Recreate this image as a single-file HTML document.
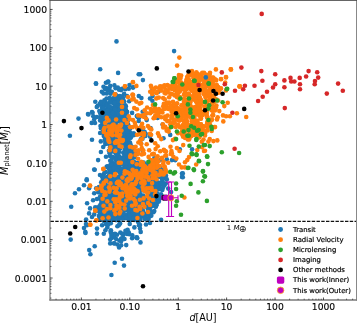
<!DOCTYPE html>
<html><head><meta charset="utf-8"><title>Planet mass vs distance</title>
<style>html,body{margin:0;padding:0;background:#fff;overflow:hidden}svg{display:block}</style></head>
<body>
<svg width="357" height="323" viewBox="0 0 357 323" font-family="'DejaVu Sans', 'Liberation Sans', sans-serif">
<rect width="357" height="323" fill="#fff"/>
<clipPath id="c"><rect x="50.5" y="0.5" width="306.0" height="300.0"/></clipPath>
<g clip-path="url(#c)">
<g fill="#1f77b4">
<circle cx="119.3" cy="146.7" r="2.3"/><circle cx="110.2" cy="132.3" r="2.3"/><circle cx="131.3" cy="160.4" r="2.3"/><circle cx="104.4" cy="110.1" r="2.3"/><circle cx="101.8" cy="127.2" r="2.3"/><circle cx="101.0" cy="128.3" r="2.3"/><circle cx="122.7" cy="115.3" r="2.3"/><circle cx="123.7" cy="138.1" r="2.3"/><circle cx="109.1" cy="125.3" r="2.3"/><circle cx="109.9" cy="145.6" r="2.3"/><circle cx="115.4" cy="106.5" r="2.3"/><circle cx="119.1" cy="152.0" r="2.3"/><circle cx="110.7" cy="111.2" r="2.3"/><circle cx="113.6" cy="163.4" r="2.3"/><circle cx="131.6" cy="156.7" r="2.3"/><circle cx="113.2" cy="101.7" r="2.3"/><circle cx="122.9" cy="135.7" r="2.3"/><circle cx="112.7" cy="111.4" r="2.3"/><circle cx="114.2" cy="129.2" r="2.3"/><circle cx="109.4" cy="116.3" r="2.3"/><circle cx="116.0" cy="157.8" r="2.3"/><circle cx="120.5" cy="115.7" r="2.3"/><circle cx="109.7" cy="128.2" r="2.3"/><circle cx="107.2" cy="109.7" r="2.3"/><circle cx="118.0" cy="101.4" r="2.3"/><circle cx="116.9" cy="121.4" r="2.3"/><circle cx="124.8" cy="149.5" r="2.3"/><circle cx="124.2" cy="145.3" r="2.3"/><circle cx="113.1" cy="143.8" r="2.3"/><circle cx="111.9" cy="136.8" r="2.3"/><circle cx="111.4" cy="127.5" r="2.3"/><circle cx="102.2" cy="112.7" r="2.3"/><circle cx="124.2" cy="142.5" r="2.3"/><circle cx="125.3" cy="129.7" r="2.3"/><circle cx="120.9" cy="99.9" r="2.3"/><circle cx="102.5" cy="109.5" r="2.3"/><circle cx="105.3" cy="102.3" r="2.3"/><circle cx="104.5" cy="135.4" r="2.3"/><circle cx="123.9" cy="134.5" r="2.3"/><circle cx="124.8" cy="114.3" r="2.3"/><circle cx="132.4" cy="156.3" r="2.3"/><circle cx="125.4" cy="130.1" r="2.3"/><circle cx="129.5" cy="149.4" r="2.3"/><circle cx="123.1" cy="161.7" r="2.3"/><circle cx="122.2" cy="121.7" r="2.3"/><circle cx="119.3" cy="109.3" r="2.3"/><circle cx="127.5" cy="166.0" r="2.3"/><circle cx="129.8" cy="134.7" r="2.3"/><circle cx="103.1" cy="130.7" r="2.3"/><circle cx="132.5" cy="152.5" r="2.3"/><circle cx="117.0" cy="128.2" r="2.3"/><circle cx="107.6" cy="107.9" r="2.3"/><circle cx="122.4" cy="105.5" r="2.3"/><circle cx="114.5" cy="98.6" r="2.3"/><circle cx="122.8" cy="130.0" r="2.3"/><circle cx="109.6" cy="142.6" r="2.3"/><circle cx="118.9" cy="156.1" r="2.3"/><circle cx="106.0" cy="114.0" r="2.3"/><circle cx="124.2" cy="160.4" r="2.3"/><circle cx="111.9" cy="99.7" r="2.3"/><circle cx="125.9" cy="106.5" r="2.3"/><circle cx="124.3" cy="156.4" r="2.3"/><circle cx="125.5" cy="121.2" r="2.3"/><circle cx="125.4" cy="105.2" r="2.3"/><circle cx="111.0" cy="125.6" r="2.3"/><circle cx="130.8" cy="153.3" r="2.3"/><circle cx="107.2" cy="112.6" r="2.3"/><circle cx="129.0" cy="165.5" r="2.3"/><circle cx="124.5" cy="130.2" r="2.3"/><circle cx="110.0" cy="155.9" r="2.3"/><circle cx="109.8" cy="126.4" r="2.3"/><circle cx="118.9" cy="102.0" r="2.3"/><circle cx="129.3" cy="134.0" r="2.3"/><circle cx="127.1" cy="111.9" r="2.3"/><circle cx="112.0" cy="164.2" r="2.3"/><circle cx="124.5" cy="156.4" r="2.3"/><circle cx="126.0" cy="117.2" r="2.3"/><circle cx="118.1" cy="106.4" r="2.3"/><circle cx="116.8" cy="99.5" r="2.3"/><circle cx="118.9" cy="100.5" r="2.3"/><circle cx="106.4" cy="126.9" r="2.3"/><circle cx="117.4" cy="137.6" r="2.3"/><circle cx="121.7" cy="122.2" r="2.3"/><circle cx="121.7" cy="106.5" r="2.3"/><circle cx="109.6" cy="153.3" r="2.3"/><circle cx="105.4" cy="111.3" r="2.3"/><circle cx="108.5" cy="130.0" r="2.3"/><circle cx="116.2" cy="106.9" r="2.3"/><circle cx="123.8" cy="153.0" r="2.3"/><circle cx="120.2" cy="145.7" r="2.3"/><circle cx="113.7" cy="98.4" r="2.3"/><circle cx="115.4" cy="122.2" r="2.3"/><circle cx="120.9" cy="104.8" r="2.3"/><circle cx="109.3" cy="125.0" r="2.3"/><circle cx="119.8" cy="139.6" r="2.3"/><circle cx="101.5" cy="125.5" r="2.3"/><circle cx="100.1" cy="113.0" r="2.3"/><circle cx="125.7" cy="141.2" r="2.3"/><circle cx="116.3" cy="157.6" r="2.3"/><circle cx="123.7" cy="127.6" r="2.3"/><circle cx="123.5" cy="128.6" r="2.3"/><circle cx="117.8" cy="158.6" r="2.3"/><circle cx="112.1" cy="99.2" r="2.3"/><circle cx="125.0" cy="125.3" r="2.3"/><circle cx="125.7" cy="129.8" r="2.3"/><circle cx="117.5" cy="125.5" r="2.3"/><circle cx="110.2" cy="160.8" r="2.3"/><circle cx="123.4" cy="152.6" r="2.3"/><circle cx="132.2" cy="158.0" r="2.3"/><circle cx="117.7" cy="136.5" r="2.3"/><circle cx="106.1" cy="134.0" r="2.3"/><circle cx="104.4" cy="100.3" r="2.3"/><circle cx="121.3" cy="130.9" r="2.3"/><circle cx="123.6" cy="152.7" r="2.3"/><circle cx="122.1" cy="137.1" r="2.3"/><circle cx="122.8" cy="134.7" r="2.3"/><circle cx="119.5" cy="158.4" r="2.3"/><circle cx="115.8" cy="134.1" r="2.3"/><circle cx="124.2" cy="101.5" r="2.3"/><circle cx="115.1" cy="102.5" r="2.3"/><circle cx="107.3" cy="110.8" r="2.3"/><circle cx="118.1" cy="136.6" r="2.3"/><circle cx="128.8" cy="130.5" r="2.3"/><circle cx="126.1" cy="135.4" r="2.3"/><circle cx="121.8" cy="114.7" r="2.3"/><circle cx="132.8" cy="151.2" r="2.3"/><circle cx="105.1" cy="134.2" r="2.3"/><circle cx="110.6" cy="149.1" r="2.3"/><circle cx="120.1" cy="148.4" r="2.3"/><circle cx="119.3" cy="163.6" r="2.3"/><circle cx="112.1" cy="136.9" r="2.3"/><circle cx="114.7" cy="166.8" r="2.3"/><circle cx="119.0" cy="134.0" r="2.3"/><circle cx="116.3" cy="95.5" r="2.3"/><circle cx="128.7" cy="136.8" r="2.3"/><circle cx="114.8" cy="140.2" r="2.3"/><circle cx="107.1" cy="118.9" r="2.3"/><circle cx="112.1" cy="123.8" r="2.3"/><circle cx="105.9" cy="139.0" r="2.3"/><circle cx="121.7" cy="145.9" r="2.3"/><circle cx="110.2" cy="116.3" r="2.3"/><circle cx="126.4" cy="123.3" r="2.3"/><circle cx="110.2" cy="122.9" r="2.3"/><circle cx="125.1" cy="125.1" r="2.3"/><circle cx="132.0" cy="147.5" r="2.3"/><circle cx="116.8" cy="101.1" r="2.3"/><circle cx="112.7" cy="130.8" r="2.3"/><circle cx="109.9" cy="134.0" r="2.3"/><circle cx="107.3" cy="131.1" r="2.3"/><circle cx="118.5" cy="144.2" r="2.3"/><circle cx="126.1" cy="148.3" r="2.3"/><circle cx="114.8" cy="128.3" r="2.3"/><circle cx="125.8" cy="167.6" r="2.3"/><circle cx="110.7" cy="140.4" r="2.3"/><circle cx="124.0" cy="133.5" r="2.3"/><circle cx="112.0" cy="128.2" r="2.3"/><circle cx="102.9" cy="116.3" r="2.3"/><circle cx="112.4" cy="131.9" r="2.3"/><circle cx="102.1" cy="108.0" r="2.3"/><circle cx="124.3" cy="139.2" r="2.3"/><circle cx="129.9" cy="165.3" r="2.3"/><circle cx="112.6" cy="140.3" r="2.3"/><circle cx="115.7" cy="131.9" r="2.3"/><circle cx="113.7" cy="166.3" r="2.3"/><circle cx="121.8" cy="105.4" r="2.3"/><circle cx="124.4" cy="165.5" r="2.3"/><circle cx="132.6" cy="148.6" r="2.3"/><circle cx="115.0" cy="122.8" r="2.3"/><circle cx="127.5" cy="131.4" r="2.3"/><circle cx="113.7" cy="102.8" r="2.3"/><circle cx="115.2" cy="152.5" r="2.3"/><circle cx="117.2" cy="158.2" r="2.3"/><circle cx="113.3" cy="140.9" r="2.3"/><circle cx="129.4" cy="136.3" r="2.3"/><circle cx="111.3" cy="120.4" r="2.3"/><circle cx="120.8" cy="104.4" r="2.3"/><circle cx="117.9" cy="116.6" r="2.3"/><circle cx="112.0" cy="118.5" r="2.3"/><circle cx="108.3" cy="107.0" r="2.3"/><circle cx="100.5" cy="126.1" r="2.3"/><circle cx="129.5" cy="160.9" r="2.3"/><circle cx="117.1" cy="125.8" r="2.3"/><circle cx="130.4" cy="133.6" r="2.3"/><circle cx="119.2" cy="142.4" r="2.3"/><circle cx="103.7" cy="133.9" r="2.3"/><circle cx="112.0" cy="148.0" r="2.3"/><circle cx="118.5" cy="146.5" r="2.3"/><circle cx="106.1" cy="112.9" r="2.3"/><circle cx="102.3" cy="106.6" r="2.3"/><circle cx="104.1" cy="116.2" r="2.3"/><circle cx="126.3" cy="145.6" r="2.3"/><circle cx="126.7" cy="143.2" r="2.3"/><circle cx="119.4" cy="96.6" r="2.3"/><circle cx="117.2" cy="156.6" r="2.3"/><circle cx="116.5" cy="116.6" r="2.3"/><circle cx="109.6" cy="123.7" r="2.3"/><circle cx="126.2" cy="167.1" r="2.3"/><circle cx="126.7" cy="115.7" r="2.3"/><circle cx="115.2" cy="147.8" r="2.3"/><circle cx="124.8" cy="144.5" r="2.3"/><circle cx="117.1" cy="105.4" r="2.3"/><circle cx="115.6" cy="113.2" r="2.3"/><circle cx="124.3" cy="143.4" r="2.3"/><circle cx="116.2" cy="146.6" r="2.3"/><circle cx="119.7" cy="144.3" r="2.3"/><circle cx="122.2" cy="114.1" r="2.3"/><circle cx="129.6" cy="129.4" r="2.3"/><circle cx="121.0" cy="159.0" r="2.3"/><circle cx="128.1" cy="124.3" r="2.3"/><circle cx="104.7" cy="114.4" r="2.3"/><circle cx="103.0" cy="108.1" r="2.3"/><circle cx="108.6" cy="124.6" r="2.3"/><circle cx="124.0" cy="127.4" r="2.3"/><circle cx="117.6" cy="101.8" r="2.3"/><circle cx="111.8" cy="110.1" r="2.3"/><circle cx="121.6" cy="145.9" r="2.3"/><circle cx="117.7" cy="98.2" r="2.3"/><circle cx="108.8" cy="112.4" r="2.3"/><circle cx="109.4" cy="114.2" r="2.3"/><circle cx="134.0" cy="152.8" r="2.3"/><circle cx="131.2" cy="147.1" r="2.3"/><circle cx="112.1" cy="163.8" r="2.3"/><circle cx="117.0" cy="108.5" r="2.3"/><circle cx="125.5" cy="113.9" r="2.3"/><circle cx="128.8" cy="149.1" r="2.3"/><circle cx="110.2" cy="128.6" r="2.3"/><circle cx="125.0" cy="143.8" r="2.3"/><circle cx="118.4" cy="110.6" r="2.3"/><circle cx="111.4" cy="145.7" r="2.3"/><circle cx="116.0" cy="147.4" r="2.3"/><circle cx="123.9" cy="121.0" r="2.3"/><circle cx="112.4" cy="136.2" r="2.3"/><circle cx="104.4" cy="105.7" r="2.3"/><circle cx="114.8" cy="143.9" r="2.3"/><circle cx="129.8" cy="144.1" r="2.3"/><circle cx="126.2" cy="112.4" r="2.3"/><circle cx="103.5" cy="119.0" r="2.3"/><circle cx="104.4" cy="125.4" r="2.3"/><circle cx="126.6" cy="115.5" r="2.3"/><circle cx="130.0" cy="128.1" r="2.3"/><circle cx="105.7" cy="141.9" r="2.3"/><circle cx="115.3" cy="119.1" r="2.3"/><circle cx="118.1" cy="167.3" r="2.3"/><circle cx="126.3" cy="116.4" r="2.3"/><circle cx="114.3" cy="122.2" r="2.3"/><circle cx="122.7" cy="132.1" r="2.3"/><circle cx="105.5" cy="141.8" r="2.3"/><circle cx="128.3" cy="151.0" r="2.3"/><circle cx="112.1" cy="157.2" r="2.3"/><circle cx="119.7" cy="100.8" r="2.3"/><circle cx="126.1" cy="136.1" r="2.3"/><circle cx="115.8" cy="141.6" r="2.3"/><circle cx="115.5" cy="97.7" r="2.3"/><circle cx="109.8" cy="98.6" r="2.3"/><circle cx="125.1" cy="161.4" r="2.3"/><circle cx="116.2" cy="154.4" r="2.3"/><circle cx="111.5" cy="123.1" r="2.3"/><circle cx="110.2" cy="116.5" r="2.3"/><circle cx="119.6" cy="118.8" r="2.3"/><circle cx="110.8" cy="123.6" r="2.3"/><circle cx="106.5" cy="98.6" r="2.3"/><circle cx="122.9" cy="125.9" r="2.3"/><circle cx="117.8" cy="120.8" r="2.3"/><circle cx="120.2" cy="162.6" r="2.3"/><circle cx="122.9" cy="109.2" r="2.3"/><circle cx="112.8" cy="145.0" r="2.3"/><circle cx="119.9" cy="101.2" r="2.3"/><circle cx="124.5" cy="142.3" r="2.3"/><circle cx="120.2" cy="105.7" r="2.3"/><circle cx="105.8" cy="140.3" r="2.3"/><circle cx="110.3" cy="147.3" r="2.3"/><circle cx="107.1" cy="141.8" r="2.3"/><circle cx="114.5" cy="97.2" r="2.3"/><circle cx="118.1" cy="132.0" r="2.3"/><circle cx="131.9" cy="146.9" r="2.3"/><circle cx="110.6" cy="142.1" r="2.3"/><circle cx="108.8" cy="142.8" r="2.3"/><circle cx="121.1" cy="139.9" r="2.3"/><circle cx="118.8" cy="149.2" r="2.3"/><circle cx="119.4" cy="115.3" r="2.3"/><circle cx="121.8" cy="157.7" r="2.3"/><circle cx="103.8" cy="135.9" r="2.3"/><circle cx="122.1" cy="162.6" r="2.3"/><circle cx="125.6" cy="143.2" r="2.3"/><circle cx="130.1" cy="142.9" r="2.3"/><circle cx="122.1" cy="139.5" r="2.3"/><circle cx="118.1" cy="96.6" r="2.3"/><circle cx="128.7" cy="145.3" r="2.3"/><circle cx="123.0" cy="98.8" r="2.3"/><circle cx="124.7" cy="119.7" r="2.3"/><circle cx="111.7" cy="102.5" r="2.3"/><circle cx="100.6" cy="118.6" r="2.3"/><circle cx="124.5" cy="125.6" r="2.3"/><circle cx="125.4" cy="165.9" r="2.3"/><circle cx="110.6" cy="109.2" r="2.3"/><circle cx="127.5" cy="164.2" r="2.3"/><circle cx="125.1" cy="136.9" r="2.3"/><circle cx="112.9" cy="116.6" r="2.3"/><circle cx="102.3" cy="122.7" r="2.3"/><circle cx="117.6" cy="113.2" r="2.3"/><circle cx="110.1" cy="138.8" r="2.3"/><circle cx="130.9" cy="137.6" r="2.3"/><circle cx="112.3" cy="156.7" r="2.3"/><circle cx="118.5" cy="140.2" r="2.3"/><circle cx="126.5" cy="116.0" r="2.3"/><circle cx="124.0" cy="114.5" r="2.3"/><circle cx="122.8" cy="113.7" r="2.3"/><circle cx="127.9" cy="120.4" r="2.3"/><circle cx="125.0" cy="157.4" r="2.3"/><circle cx="130.5" cy="133.0" r="2.3"/><circle cx="119.2" cy="116.5" r="2.3"/><circle cx="130.0" cy="150.6" r="2.3"/><circle cx="118.0" cy="131.7" r="2.3"/><circle cx="103.3" cy="102.9" r="2.3"/><circle cx="126.8" cy="133.4" r="2.3"/><circle cx="119.5" cy="126.6" r="2.3"/><circle cx="113.4" cy="128.9" r="2.3"/><circle cx="115.4" cy="104.8" r="2.3"/><circle cx="133.7" cy="165.0" r="2.3"/><circle cx="113.5" cy="166.7" r="2.3"/><circle cx="116.9" cy="162.4" r="2.3"/><circle cx="112.0" cy="131.2" r="2.3"/><circle cx="129.0" cy="143.1" r="2.3"/><circle cx="110.7" cy="128.3" r="2.3"/><circle cx="121.8" cy="124.3" r="2.3"/><circle cx="106.9" cy="111.4" r="2.3"/><circle cx="125.9" cy="110.4" r="2.3"/><circle cx="106.5" cy="116.0" r="2.3"/><circle cx="116.8" cy="110.9" r="2.3"/><circle cx="115.5" cy="159.5" r="2.3"/><circle cx="120.3" cy="160.7" r="2.3"/><circle cx="130.8" cy="154.4" r="2.3"/><circle cx="132.3" cy="162.5" r="2.3"/><circle cx="123.2" cy="163.5" r="2.3"/><circle cx="108.1" cy="137.0" r="2.3"/><circle cx="128.0" cy="137.8" r="2.3"/><circle cx="122.0" cy="123.6" r="2.3"/><circle cx="120.5" cy="121.2" r="2.3"/><circle cx="111.5" cy="107.6" r="2.3"/><circle cx="106.5" cy="143.7" r="2.3"/><circle cx="110.0" cy="118.1" r="2.3"/><circle cx="129.0" cy="155.1" r="2.3"/><circle cx="122.9" cy="127.6" r="2.3"/><circle cx="110.9" cy="132.9" r="2.3"/><circle cx="123.3" cy="123.5" r="2.3"/><circle cx="114.3" cy="110.7" r="2.3"/><circle cx="105.8" cy="140.5" r="2.3"/><circle cx="123.0" cy="138.8" r="2.3"/><circle cx="126.2" cy="118.3" r="2.3"/><circle cx="109.2" cy="116.0" r="2.3"/><circle cx="129.3" cy="157.0" r="2.3"/><circle cx="113.2" cy="116.2" r="2.3"/><circle cx="124.0" cy="112.2" r="2.3"/><circle cx="126.0" cy="152.9" r="2.3"/><circle cx="118.7" cy="107.7" r="2.3"/><circle cx="109.2" cy="136.4" r="2.3"/><circle cx="125.7" cy="109.7" r="2.3"/><circle cx="122.7" cy="161.3" r="2.3"/><circle cx="125.6" cy="159.9" r="2.3"/><circle cx="113.6" cy="102.9" r="2.3"/><circle cx="99.7" cy="104.0" r="2.3"/><circle cx="103.6" cy="132.7" r="2.3"/><circle cx="105.1" cy="123.6" r="2.3"/><circle cx="122.2" cy="101.2" r="2.3"/><circle cx="112.0" cy="148.8" r="2.3"/><circle cx="116.1" cy="108.2" r="2.3"/><circle cx="97.8" cy="105.7" r="2.3"/><circle cx="93.3" cy="116.2" r="2.3"/><circle cx="108.8" cy="125.2" r="2.3"/><circle cx="100.1" cy="120.4" r="2.3"/><circle cx="118.5" cy="101.6" r="2.3"/><circle cx="120.9" cy="143.8" r="2.3"/><circle cx="103.4" cy="124.3" r="2.3"/><circle cx="114.5" cy="128.0" r="2.3"/><circle cx="125.1" cy="110.2" r="2.3"/><circle cx="129.2" cy="101.2" r="2.3"/><circle cx="107.3" cy="103.6" r="2.3"/><circle cx="101.5" cy="114.6" r="2.3"/><circle cx="114.1" cy="107.2" r="2.3"/><circle cx="105.9" cy="82.7" r="2.3"/><circle cx="109.4" cy="88.8" r="2.3"/><circle cx="109.4" cy="139.3" r="2.3"/><circle cx="115.4" cy="112.8" r="2.3"/><circle cx="115.4" cy="94.3" r="2.3"/><circle cx="107.5" cy="106.1" r="2.3"/><circle cx="107.6" cy="82.3" r="2.3"/><circle cx="124.2" cy="137.2" r="2.3"/><circle cx="114.0" cy="110.6" r="2.3"/><circle cx="103.4" cy="108.1" r="2.3"/><circle cx="115.3" cy="96.9" r="2.3"/><circle cx="110.0" cy="147.6" r="2.3"/><circle cx="115.9" cy="113.5" r="2.3"/><circle cx="115.8" cy="109.7" r="2.3"/><circle cx="123.7" cy="110.3" r="2.3"/><circle cx="103.0" cy="126.9" r="2.3"/><circle cx="107.9" cy="90.6" r="2.3"/><circle cx="107.1" cy="105.1" r="2.3"/><circle cx="107.3" cy="135.9" r="2.3"/><circle cx="115.1" cy="108.4" r="2.3"/><circle cx="126.4" cy="129.2" r="2.3"/><circle cx="109.7" cy="98.0" r="2.3"/><circle cx="110.5" cy="121.9" r="2.3"/><circle cx="122.0" cy="88.7" r="2.3"/><circle cx="117.1" cy="112.2" r="2.3"/><circle cx="122.6" cy="96.4" r="2.3"/><circle cx="107.5" cy="110.9" r="2.3"/><circle cx="123.9" cy="133.7" r="2.3"/><circle cx="122.9" cy="99.3" r="2.3"/><circle cx="116.3" cy="150.3" r="2.3"/><circle cx="119.1" cy="89.8" r="2.3"/><circle cx="104.9" cy="139.3" r="2.3"/><circle cx="112.3" cy="151.4" r="2.3"/><circle cx="123.9" cy="115.7" r="2.3"/><circle cx="125.3" cy="122.3" r="2.3"/><circle cx="117.6" cy="117.9" r="2.3"/><circle cx="116.2" cy="118.6" r="2.3"/><circle cx="118.4" cy="129.8" r="2.3"/><circle cx="122.5" cy="112.1" r="2.3"/><circle cx="124.9" cy="116.4" r="2.3"/><circle cx="113.3" cy="130.5" r="2.3"/><circle cx="114.4" cy="103.5" r="2.3"/><circle cx="115.8" cy="145.9" r="2.3"/><circle cx="113.3" cy="137.6" r="2.3"/><circle cx="107.8" cy="111.9" r="2.3"/><circle cx="113.6" cy="118.9" r="2.3"/><circle cx="105.2" cy="133.7" r="2.3"/><circle cx="100.9" cy="152.0" r="2.3"/><circle cx="103.3" cy="123.1" r="2.3"/><circle cx="124.4" cy="112.6" r="2.3"/><circle cx="115.6" cy="88.2" r="2.3"/><circle cx="115.6" cy="120.1" r="2.3"/><circle cx="121.2" cy="123.0" r="2.3"/><circle cx="117.4" cy="127.8" r="2.3"/><circle cx="119.9" cy="135.8" r="2.3"/><circle cx="102.9" cy="115.3" r="2.3"/><circle cx="110.9" cy="133.8" r="2.3"/><circle cx="108.9" cy="150.8" r="2.3"/><circle cx="124.1" cy="93.8" r="2.3"/><circle cx="100.5" cy="103.0" r="2.3"/><circle cx="100.8" cy="141.4" r="2.3"/><circle cx="105.3" cy="144.1" r="2.3"/><circle cx="115.9" cy="125.9" r="2.3"/><circle cx="115.0" cy="109.4" r="2.3"/><circle cx="128.1" cy="128.4" r="2.3"/><circle cx="113.0" cy="113.0" r="2.3"/><circle cx="120.4" cy="160.8" r="2.3"/><circle cx="100.1" cy="133.0" r="2.3"/><circle cx="108.9" cy="89.8" r="2.3"/><circle cx="118.3" cy="114.0" r="2.3"/><circle cx="119.5" cy="109.5" r="2.3"/><circle cx="124.0" cy="123.1" r="2.3"/><circle cx="105.8" cy="111.9" r="2.3"/><circle cx="117.8" cy="159.5" r="2.3"/><circle cx="110.7" cy="93.7" r="2.3"/><circle cx="100.4" cy="116.4" r="2.3"/><circle cx="115.1" cy="133.0" r="2.3"/><circle cx="107.9" cy="110.2" r="2.3"/><circle cx="113.0" cy="150.3" r="2.3"/><circle cx="95.3" cy="101.8" r="2.3"/><circle cx="119.9" cy="96.0" r="2.3"/><circle cx="103.2" cy="147.0" r="2.3"/><circle cx="121.4" cy="116.2" r="2.3"/><circle cx="114.6" cy="102.9" r="2.3"/><circle cx="109.6" cy="106.2" r="2.3"/><circle cx="124.6" cy="127.7" r="2.3"/><circle cx="128.8" cy="88.7" r="2.3"/><circle cx="109.8" cy="102.1" r="2.3"/><circle cx="92.0" cy="139.7" r="2.3"/><circle cx="106.2" cy="88.1" r="2.3"/><circle cx="123.4" cy="118.8" r="2.3"/><circle cx="120.7" cy="141.4" r="2.3"/><circle cx="130.5" cy="144.8" r="2.3"/><circle cx="123.9" cy="161.9" r="2.3"/><circle cx="120.1" cy="159.4" r="2.3"/><circle cx="130.0" cy="145.6" r="2.3"/><circle cx="127.0" cy="151.1" r="2.3"/><circle cx="133.8" cy="133.6" r="2.3"/><circle cx="125.3" cy="157.0" r="2.3"/><circle cx="129.7" cy="138.6" r="2.3"/><circle cx="128.5" cy="138.9" r="2.3"/><circle cx="125.5" cy="141.9" r="2.3"/><circle cx="133.2" cy="148.8" r="2.3"/><circle cx="134.6" cy="157.4" r="2.3"/><circle cx="123.6" cy="158.7" r="2.3"/><circle cx="130.9" cy="154.2" r="2.3"/><circle cx="141.0" cy="143.2" r="2.3"/><circle cx="133.4" cy="133.5" r="2.3"/><circle cx="134.2" cy="155.9" r="2.3"/><circle cx="131.3" cy="163.5" r="2.3"/><circle cx="125.9" cy="153.1" r="2.3"/><circle cx="130.6" cy="157.4" r="2.3"/><circle cx="120.1" cy="157.7" r="2.3"/><circle cx="128.3" cy="135.0" r="2.3"/><circle cx="125.5" cy="140.0" r="2.3"/><circle cx="130.1" cy="152.7" r="2.3"/><circle cx="126.8" cy="159.6" r="2.3"/><circle cx="136.7" cy="154.1" r="2.3"/><circle cx="128.9" cy="146.4" r="2.3"/><circle cx="127.4" cy="131.6" r="2.3"/><circle cx="123.7" cy="144.8" r="2.3"/><circle cx="116.5" cy="41.4" r="2.3"/><circle cx="100.2" cy="69.2" r="2.3"/><circle cx="118.1" cy="72.9" r="2.3"/><circle cx="138.7" cy="74.2" r="2.3"/><circle cx="108.2" cy="81.5" r="2.3"/><circle cx="96.1" cy="83.8" r="2.3"/><circle cx="174.1" cy="51.1" r="2.3"/><circle cx="140.2" cy="74.2" r="2.3"/><circle cx="142.9" cy="80.1" r="2.3"/><circle cx="95.9" cy="83.4" r="2.3"/><circle cx="108.2" cy="81.7" r="2.3"/><circle cx="103.5" cy="86.8" r="2.3"/><circle cx="105.2" cy="89.3" r="2.3"/><circle cx="101.8" cy="91.8" r="2.3"/><circle cx="103.5" cy="93.5" r="2.3"/><circle cx="110.2" cy="85.9" r="2.3"/><circle cx="114.4" cy="85.4" r="2.3"/><circle cx="117.8" cy="87.6" r="2.3"/><circle cx="121.1" cy="90.1" r="2.3"/><circle cx="125.3" cy="89.3" r="2.3"/><circle cx="129.5" cy="85.1" r="2.3"/><circle cx="132.9" cy="87.6" r="2.3"/><circle cx="106.8" cy="93.5" r="2.3"/><circle cx="111.9" cy="91.8" r="2.3"/><circle cx="127.0" cy="96.0" r="2.3"/><circle cx="138.8" cy="96.0" r="2.3"/><circle cx="88.4" cy="114.5" r="2.3"/><circle cx="92.6" cy="112.8" r="2.3"/><circle cx="96.8" cy="106.9" r="2.3"/><circle cx="101.0" cy="101.9" r="2.3"/><circle cx="91.7" cy="122.9" r="2.3"/><circle cx="96.8" cy="117.0" r="2.3"/><circle cx="94.2" cy="119.5" r="2.3"/><circle cx="99.3" cy="111.1" r="2.3"/><circle cx="78.5" cy="118.6" r="2.3"/><circle cx="69.9" cy="135.7" r="2.3"/><circle cx="88.0" cy="114.0" r="2.3"/><circle cx="92.0" cy="112.0" r="2.3"/><circle cx="95.0" cy="123.0" r="2.3"/><circle cx="98.1" cy="160.1" r="2.3"/><circle cx="94.7" cy="169.7" r="2.3"/><circle cx="86.7" cy="179.4" r="2.3"/><circle cx="106.0" cy="156.7" r="2.3"/><circle cx="145.0" cy="165.7" r="2.3"/><circle cx="131.7" cy="193.4" r="2.3"/><circle cx="103.8" cy="202.2" r="2.3"/><circle cx="163.0" cy="170.1" r="2.3"/><circle cx="107.0" cy="195.3" r="2.3"/><circle cx="114.5" cy="216.7" r="2.3"/><circle cx="146.6" cy="175.5" r="2.3"/><circle cx="150.1" cy="216.3" r="2.3"/><circle cx="109.0" cy="203.3" r="2.3"/><circle cx="119.5" cy="205.1" r="2.3"/><circle cx="119.5" cy="178.2" r="2.3"/><circle cx="139.7" cy="190.0" r="2.3"/><circle cx="165.8" cy="183.6" r="2.3"/><circle cx="126.3" cy="207.3" r="2.3"/><circle cx="124.8" cy="176.6" r="2.3"/><circle cx="117.5" cy="186.8" r="2.3"/><circle cx="130.8" cy="161.1" r="2.3"/><circle cx="136.7" cy="201.2" r="2.3"/><circle cx="101.3" cy="190.6" r="2.3"/><circle cx="121.8" cy="186.3" r="2.3"/><circle cx="124.0" cy="189.6" r="2.3"/><circle cx="151.7" cy="187.2" r="2.3"/><circle cx="147.0" cy="165.6" r="2.3"/><circle cx="123.5" cy="186.5" r="2.3"/><circle cx="100.6" cy="198.3" r="2.3"/><circle cx="102.7" cy="220.1" r="2.3"/><circle cx="130.3" cy="220.2" r="2.3"/><circle cx="108.5" cy="206.2" r="2.3"/><circle cx="157.8" cy="200.6" r="2.3"/><circle cx="115.8" cy="169.2" r="2.3"/><circle cx="142.5" cy="213.0" r="2.3"/><circle cx="115.7" cy="187.4" r="2.3"/><circle cx="152.8" cy="185.1" r="2.3"/><circle cx="117.6" cy="166.3" r="2.3"/><circle cx="126.6" cy="167.7" r="2.3"/><circle cx="159.2" cy="171.7" r="2.3"/><circle cx="159.9" cy="170.5" r="2.3"/><circle cx="115.0" cy="180.8" r="2.3"/><circle cx="132.7" cy="202.6" r="2.3"/><circle cx="124.8" cy="167.8" r="2.3"/><circle cx="157.7" cy="198.6" r="2.3"/><circle cx="102.2" cy="201.2" r="2.3"/><circle cx="113.7" cy="194.8" r="2.3"/><circle cx="146.7" cy="178.7" r="2.3"/><circle cx="102.4" cy="204.9" r="2.3"/><circle cx="114.8" cy="181.3" r="2.3"/><circle cx="117.7" cy="217.9" r="2.3"/><circle cx="125.0" cy="201.8" r="2.3"/><circle cx="144.2" cy="184.4" r="2.3"/><circle cx="133.1" cy="211.4" r="2.3"/><circle cx="135.1" cy="173.1" r="2.3"/><circle cx="106.5" cy="202.7" r="2.3"/><circle cx="138.6" cy="185.0" r="2.3"/><circle cx="141.4" cy="178.4" r="2.3"/><circle cx="117.3" cy="169.8" r="2.3"/><circle cx="116.6" cy="200.5" r="2.3"/><circle cx="120.7" cy="163.6" r="2.3"/><circle cx="146.6" cy="205.3" r="2.3"/><circle cx="110.3" cy="190.8" r="2.3"/><circle cx="121.8" cy="209.9" r="2.3"/><circle cx="100.5" cy="204.9" r="2.3"/><circle cx="119.0" cy="191.6" r="2.3"/><circle cx="159.0" cy="173.8" r="2.3"/><circle cx="155.2" cy="172.1" r="2.3"/><circle cx="143.8" cy="198.6" r="2.3"/><circle cx="117.3" cy="185.1" r="2.3"/><circle cx="131.4" cy="184.5" r="2.3"/><circle cx="135.7" cy="176.4" r="2.3"/><circle cx="135.9" cy="183.6" r="2.3"/><circle cx="115.5" cy="190.0" r="2.3"/><circle cx="122.7" cy="218.2" r="2.3"/><circle cx="152.1" cy="212.1" r="2.3"/><circle cx="129.4" cy="161.7" r="2.3"/><circle cx="140.1" cy="175.1" r="2.3"/><circle cx="128.0" cy="172.8" r="2.3"/><circle cx="142.6" cy="175.8" r="2.3"/><circle cx="107.9" cy="190.9" r="2.3"/><circle cx="100.7" cy="199.1" r="2.3"/><circle cx="125.0" cy="218.3" r="2.3"/><circle cx="103.5" cy="176.9" r="2.3"/><circle cx="135.0" cy="177.2" r="2.3"/><circle cx="111.7" cy="199.7" r="2.3"/><circle cx="157.6" cy="197.9" r="2.3"/><circle cx="151.0" cy="201.2" r="2.3"/><circle cx="116.1" cy="210.5" r="2.3"/><circle cx="132.2" cy="201.6" r="2.3"/><circle cx="150.1" cy="182.8" r="2.3"/><circle cx="150.8" cy="174.6" r="2.3"/><circle cx="149.6" cy="178.9" r="2.3"/><circle cx="124.2" cy="208.9" r="2.3"/><circle cx="120.0" cy="161.5" r="2.3"/><circle cx="155.1" cy="206.2" r="2.3"/><circle cx="164.2" cy="184.0" r="2.3"/><circle cx="102.2" cy="185.3" r="2.3"/><circle cx="139.3" cy="167.9" r="2.3"/><circle cx="155.6" cy="203.6" r="2.3"/><circle cx="156.4" cy="205.2" r="2.3"/><circle cx="153.1" cy="164.5" r="2.3"/><circle cx="148.2" cy="187.8" r="2.3"/><circle cx="150.5" cy="174.6" r="2.3"/><circle cx="135.5" cy="199.9" r="2.3"/><circle cx="141.8" cy="170.0" r="2.3"/><circle cx="145.9" cy="188.2" r="2.3"/><circle cx="138.1" cy="164.3" r="2.3"/><circle cx="109.3" cy="172.5" r="2.3"/><circle cx="150.1" cy="200.8" r="2.3"/><circle cx="131.6" cy="210.7" r="2.3"/><circle cx="155.5" cy="174.0" r="2.3"/><circle cx="114.9" cy="218.3" r="2.3"/><circle cx="103.3" cy="212.2" r="2.3"/><circle cx="149.9" cy="187.5" r="2.3"/><circle cx="140.4" cy="172.9" r="2.3"/><circle cx="119.8" cy="176.3" r="2.3"/><circle cx="123.9" cy="181.2" r="2.3"/><circle cx="110.5" cy="206.8" r="2.3"/><circle cx="118.1" cy="179.4" r="2.3"/><circle cx="121.0" cy="168.7" r="2.3"/><circle cx="133.3" cy="215.9" r="2.3"/><circle cx="112.7" cy="203.7" r="2.3"/><circle cx="108.4" cy="196.4" r="2.3"/><circle cx="144.5" cy="172.1" r="2.3"/><circle cx="143.1" cy="169.3" r="2.3"/><circle cx="135.1" cy="199.6" r="2.3"/><circle cx="127.2" cy="218.3" r="2.3"/><circle cx="125.1" cy="210.5" r="2.3"/><circle cx="132.9" cy="194.3" r="2.3"/><circle cx="156.3" cy="191.8" r="2.3"/><circle cx="120.3" cy="172.8" r="2.3"/><circle cx="124.2" cy="164.6" r="2.3"/><circle cx="126.4" cy="201.0" r="2.3"/><circle cx="134.8" cy="195.6" r="2.3"/><circle cx="135.4" cy="206.6" r="2.3"/><circle cx="123.4" cy="180.2" r="2.3"/><circle cx="128.1" cy="209.5" r="2.3"/><circle cx="103.3" cy="217.0" r="2.3"/><circle cx="153.5" cy="212.2" r="2.3"/><circle cx="140.9" cy="199.0" r="2.3"/><circle cx="145.2" cy="217.5" r="2.3"/><circle cx="118.2" cy="203.8" r="2.3"/><circle cx="113.1" cy="181.9" r="2.3"/><circle cx="117.3" cy="182.6" r="2.3"/><circle cx="126.9" cy="214.7" r="2.3"/><circle cx="130.5" cy="203.6" r="2.3"/><circle cx="108.2" cy="209.1" r="2.3"/><circle cx="149.4" cy="208.6" r="2.3"/><circle cx="159.9" cy="174.8" r="2.3"/><circle cx="115.6" cy="169.5" r="2.3"/><circle cx="104.6" cy="172.4" r="2.3"/><circle cx="148.4" cy="176.2" r="2.3"/><circle cx="115.6" cy="177.8" r="2.3"/><circle cx="130.6" cy="214.5" r="2.3"/><circle cx="105.3" cy="212.5" r="2.3"/><circle cx="121.8" cy="179.0" r="2.3"/><circle cx="111.5" cy="180.7" r="2.3"/><circle cx="108.3" cy="188.7" r="2.3"/><circle cx="143.5" cy="174.6" r="2.3"/><circle cx="140.0" cy="198.9" r="2.3"/><circle cx="156.5" cy="173.0" r="2.3"/><circle cx="148.6" cy="188.8" r="2.3"/><circle cx="138.2" cy="198.1" r="2.3"/><circle cx="105.7" cy="193.5" r="2.3"/><circle cx="166.0" cy="175.7" r="2.3"/><circle cx="109.1" cy="216.5" r="2.3"/><circle cx="112.1" cy="185.8" r="2.3"/><circle cx="130.8" cy="205.9" r="2.3"/><circle cx="141.1" cy="216.3" r="2.3"/><circle cx="143.7" cy="166.0" r="2.3"/><circle cx="129.5" cy="219.8" r="2.3"/><circle cx="129.3" cy="166.0" r="2.3"/><circle cx="107.8" cy="177.5" r="2.3"/><circle cx="121.3" cy="191.2" r="2.3"/><circle cx="129.3" cy="171.3" r="2.3"/><circle cx="138.9" cy="205.7" r="2.3"/><circle cx="148.9" cy="182.9" r="2.3"/><circle cx="102.4" cy="196.1" r="2.3"/><circle cx="152.6" cy="188.9" r="2.3"/><circle cx="114.9" cy="207.8" r="2.3"/><circle cx="144.2" cy="171.6" r="2.3"/><circle cx="123.4" cy="171.3" r="2.3"/><circle cx="112.6" cy="201.9" r="2.3"/><circle cx="139.7" cy="165.4" r="2.3"/><circle cx="154.8" cy="186.0" r="2.3"/><circle cx="113.0" cy="209.2" r="2.3"/><circle cx="149.3" cy="199.9" r="2.3"/><circle cx="102.6" cy="181.5" r="2.3"/><circle cx="153.6" cy="186.8" r="2.3"/><circle cx="131.4" cy="169.6" r="2.3"/><circle cx="99.7" cy="209.3" r="2.3"/><circle cx="160.1" cy="168.4" r="2.3"/><circle cx="142.6" cy="176.8" r="2.3"/><circle cx="115.8" cy="181.2" r="2.3"/><circle cx="140.9" cy="213.5" r="2.3"/><circle cx="108.3" cy="200.3" r="2.3"/><circle cx="143.0" cy="215.2" r="2.3"/><circle cx="161.1" cy="194.4" r="2.3"/><circle cx="130.1" cy="214.1" r="2.3"/><circle cx="138.4" cy="206.2" r="2.3"/><circle cx="163.6" cy="185.7" r="2.3"/><circle cx="152.2" cy="193.1" r="2.3"/><circle cx="113.6" cy="215.3" r="2.3"/><circle cx="162.3" cy="189.9" r="2.3"/><circle cx="124.3" cy="181.9" r="2.3"/><circle cx="159.7" cy="174.8" r="2.3"/><circle cx="117.4" cy="214.3" r="2.3"/><circle cx="127.4" cy="187.2" r="2.3"/><circle cx="103.6" cy="178.1" r="2.3"/><circle cx="159.8" cy="196.5" r="2.3"/><circle cx="147.8" cy="180.8" r="2.3"/><circle cx="117.7" cy="165.2" r="2.3"/><circle cx="118.5" cy="191.1" r="2.3"/><circle cx="131.0" cy="198.9" r="2.3"/><circle cx="119.1" cy="207.5" r="2.3"/><circle cx="124.9" cy="180.6" r="2.3"/><circle cx="124.0" cy="186.0" r="2.3"/><circle cx="116.6" cy="219.5" r="2.3"/><circle cx="134.0" cy="185.1" r="2.3"/><circle cx="134.2" cy="164.1" r="2.3"/><circle cx="121.7" cy="208.6" r="2.3"/><circle cx="160.5" cy="188.9" r="2.3"/><circle cx="107.5" cy="216.2" r="2.3"/><circle cx="146.0" cy="217.7" r="2.3"/><circle cx="117.7" cy="177.2" r="2.3"/><circle cx="159.4" cy="167.1" r="2.3"/><circle cx="118.8" cy="214.7" r="2.3"/><circle cx="149.0" cy="209.0" r="2.3"/><circle cx="109.7" cy="216.6" r="2.3"/><circle cx="157.6" cy="193.7" r="2.3"/><circle cx="129.1" cy="182.2" r="2.3"/><circle cx="150.7" cy="193.2" r="2.3"/><circle cx="100.9" cy="206.9" r="2.3"/><circle cx="127.4" cy="177.1" r="2.3"/><circle cx="154.6" cy="196.6" r="2.3"/><circle cx="121.1" cy="188.1" r="2.3"/><circle cx="100.5" cy="206.5" r="2.3"/><circle cx="154.3" cy="211.0" r="2.3"/><circle cx="110.1" cy="204.9" r="2.3"/><circle cx="155.5" cy="204.1" r="2.3"/><circle cx="103.9" cy="189.7" r="2.3"/><circle cx="152.7" cy="173.0" r="2.3"/><circle cx="151.3" cy="181.2" r="2.3"/><circle cx="104.2" cy="206.6" r="2.3"/><circle cx="130.3" cy="216.6" r="2.3"/><circle cx="136.8" cy="196.2" r="2.3"/><circle cx="119.2" cy="167.7" r="2.3"/><circle cx="136.5" cy="181.1" r="2.3"/><circle cx="113.1" cy="216.3" r="2.3"/><circle cx="144.6" cy="217.7" r="2.3"/><circle cx="141.2" cy="183.0" r="2.3"/><circle cx="123.7" cy="209.5" r="2.3"/><circle cx="114.3" cy="170.6" r="2.3"/><circle cx="143.2" cy="215.0" r="2.3"/><circle cx="105.3" cy="212.4" r="2.3"/><circle cx="102.5" cy="177.3" r="2.3"/><circle cx="124.3" cy="175.2" r="2.3"/><circle cx="138.5" cy="180.1" r="2.3"/><circle cx="113.4" cy="165.3" r="2.3"/><circle cx="110.5" cy="181.2" r="2.3"/><circle cx="128.7" cy="183.1" r="2.3"/><circle cx="113.4" cy="171.0" r="2.3"/><circle cx="151.3" cy="206.5" r="2.3"/><circle cx="119.1" cy="177.2" r="2.3"/><circle cx="124.9" cy="193.0" r="2.3"/><circle cx="158.3" cy="176.9" r="2.3"/><circle cx="110.1" cy="206.2" r="2.3"/><circle cx="107.7" cy="217.9" r="2.3"/><circle cx="136.6" cy="166.0" r="2.3"/><circle cx="162.2" cy="179.2" r="2.3"/><circle cx="146.0" cy="200.7" r="2.3"/><circle cx="133.3" cy="183.7" r="2.3"/><circle cx="156.7" cy="203.8" r="2.3"/><circle cx="110.2" cy="170.1" r="2.3"/><circle cx="105.7" cy="198.5" r="2.3"/><circle cx="137.8" cy="177.8" r="2.3"/><circle cx="113.0" cy="198.8" r="2.3"/><circle cx="117.4" cy="204.5" r="2.3"/><circle cx="111.3" cy="194.7" r="2.3"/><circle cx="103.2" cy="188.1" r="2.3"/><circle cx="144.0" cy="164.8" r="2.3"/><circle cx="105.4" cy="219.6" r="2.3"/><circle cx="110.3" cy="200.4" r="2.3"/><circle cx="162.4" cy="170.5" r="2.3"/><circle cx="122.9" cy="203.2" r="2.3"/><circle cx="128.6" cy="176.1" r="2.3"/><circle cx="127.9" cy="202.9" r="2.3"/><circle cx="106.6" cy="166.9" r="2.3"/><circle cx="124.0" cy="176.6" r="2.3"/><circle cx="157.7" cy="198.6" r="2.3"/><circle cx="132.8" cy="202.9" r="2.3"/><circle cx="129.2" cy="219.9" r="2.3"/><circle cx="155.9" cy="196.2" r="2.3"/><circle cx="107.4" cy="166.4" r="2.3"/><circle cx="159.4" cy="167.8" r="2.3"/><circle cx="107.7" cy="197.2" r="2.3"/><circle cx="162.1" cy="169.9" r="2.3"/><circle cx="111.0" cy="165.0" r="2.3"/><circle cx="147.4" cy="198.1" r="2.3"/><circle cx="147.4" cy="191.8" r="2.3"/><circle cx="119.5" cy="198.2" r="2.3"/><circle cx="111.1" cy="182.5" r="2.3"/><circle cx="110.4" cy="178.5" r="2.3"/><circle cx="136.2" cy="181.1" r="2.3"/><circle cx="103.4" cy="214.1" r="2.3"/><circle cx="102.0" cy="216.8" r="2.3"/><circle cx="159.8" cy="185.5" r="2.3"/><circle cx="123.6" cy="189.3" r="2.3"/><circle cx="161.0" cy="175.0" r="2.3"/><circle cx="119.6" cy="217.8" r="2.3"/><circle cx="119.3" cy="177.2" r="2.3"/><circle cx="115.9" cy="178.6" r="2.3"/><circle cx="143.9" cy="214.5" r="2.3"/><circle cx="162.5" cy="181.2" r="2.3"/><circle cx="106.3" cy="189.1" r="2.3"/><circle cx="129.1" cy="216.0" r="2.3"/><circle cx="157.1" cy="188.2" r="2.3"/><circle cx="155.8" cy="206.7" r="2.3"/><circle cx="137.7" cy="198.4" r="2.3"/><circle cx="135.6" cy="216.2" r="2.3"/><circle cx="98.9" cy="216.0" r="2.3"/><circle cx="130.3" cy="188.9" r="2.3"/><circle cx="139.7" cy="187.7" r="2.3"/><circle cx="102.9" cy="179.5" r="2.3"/><circle cx="154.7" cy="199.5" r="2.3"/><circle cx="103.7" cy="214.4" r="2.3"/><circle cx="106.6" cy="207.5" r="2.3"/><circle cx="124.1" cy="188.6" r="2.3"/><circle cx="109.1" cy="168.4" r="2.3"/><circle cx="160.0" cy="196.3" r="2.3"/><circle cx="123.1" cy="181.1" r="2.3"/><circle cx="117.8" cy="195.1" r="2.3"/><circle cx="107.6" cy="211.4" r="2.3"/><circle cx="118.8" cy="219.0" r="2.3"/><circle cx="107.8" cy="199.1" r="2.3"/><circle cx="112.2" cy="196.6" r="2.3"/><circle cx="125.2" cy="217.2" r="2.3"/><circle cx="133.7" cy="162.3" r="2.3"/><circle cx="119.2" cy="201.3" r="2.3"/><circle cx="165.0" cy="177.6" r="2.3"/><circle cx="112.2" cy="186.1" r="2.3"/><circle cx="148.3" cy="210.5" r="2.3"/><circle cx="123.3" cy="169.8" r="2.3"/><circle cx="130.0" cy="170.2" r="2.3"/><circle cx="115.8" cy="207.5" r="2.3"/><circle cx="117.1" cy="189.3" r="2.3"/><circle cx="124.0" cy="198.9" r="2.3"/><circle cx="121.2" cy="212.6" r="2.3"/><circle cx="115.2" cy="184.7" r="2.3"/><circle cx="122.7" cy="195.2" r="2.3"/><circle cx="142.6" cy="201.4" r="2.3"/><circle cx="125.4" cy="200.4" r="2.3"/><circle cx="134.4" cy="165.0" r="2.3"/><circle cx="117.5" cy="201.9" r="2.3"/><circle cx="119.3" cy="201.0" r="2.3"/><circle cx="130.3" cy="218.3" r="2.3"/><circle cx="105.9" cy="209.5" r="2.3"/><circle cx="119.0" cy="194.5" r="2.3"/><circle cx="118.4" cy="209.0" r="2.3"/><circle cx="105.7" cy="182.6" r="2.3"/><circle cx="147.5" cy="214.4" r="2.3"/><circle cx="108.8" cy="181.2" r="2.3"/><circle cx="129.9" cy="204.4" r="2.3"/><circle cx="114.2" cy="213.2" r="2.3"/><circle cx="146.6" cy="200.1" r="2.3"/><circle cx="144.7" cy="197.3" r="2.3"/><circle cx="127.8" cy="193.8" r="2.3"/><circle cx="113.3" cy="181.4" r="2.3"/><circle cx="145.0" cy="215.2" r="2.3"/><circle cx="143.1" cy="183.6" r="2.3"/><circle cx="150.4" cy="192.2" r="2.3"/><circle cx="154.2" cy="177.2" r="2.3"/><circle cx="127.1" cy="209.9" r="2.3"/><circle cx="99.3" cy="206.5" r="2.3"/><circle cx="134.2" cy="220.0" r="2.3"/><circle cx="155.9" cy="170.6" r="2.3"/><circle cx="137.1" cy="180.0" r="2.3"/><circle cx="108.5" cy="192.8" r="2.3"/><circle cx="121.0" cy="194.3" r="2.3"/><circle cx="145.7" cy="179.5" r="2.3"/><circle cx="110.6" cy="207.3" r="2.3"/><circle cx="128.3" cy="208.2" r="2.3"/><circle cx="150.3" cy="210.6" r="2.3"/><circle cx="121.9" cy="168.6" r="2.3"/><circle cx="152.9" cy="200.0" r="2.3"/><circle cx="164.1" cy="178.2" r="2.3"/><circle cx="159.0" cy="197.8" r="2.3"/><circle cx="115.6" cy="203.9" r="2.3"/><circle cx="100.6" cy="209.8" r="2.3"/><circle cx="143.8" cy="189.7" r="2.3"/><circle cx="160.8" cy="183.2" r="2.3"/><circle cx="134.8" cy="189.7" r="2.3"/><circle cx="151.5" cy="173.5" r="2.3"/><circle cx="115.1" cy="196.2" r="2.3"/><circle cx="157.3" cy="187.7" r="2.3"/><circle cx="153.9" cy="178.9" r="2.3"/><circle cx="155.9" cy="165.8" r="2.3"/><circle cx="155.1" cy="186.3" r="2.3"/><circle cx="129.4" cy="196.6" r="2.3"/><circle cx="99.7" cy="212.2" r="2.3"/><circle cx="106.4" cy="203.7" r="2.3"/><circle cx="134.1" cy="165.6" r="2.3"/><circle cx="122.1" cy="192.4" r="2.3"/><circle cx="121.4" cy="188.3" r="2.3"/><circle cx="158.9" cy="199.4" r="2.3"/><circle cx="105.3" cy="204.9" r="2.3"/><circle cx="158.2" cy="201.3" r="2.3"/><circle cx="110.0" cy="214.2" r="2.3"/><circle cx="111.7" cy="209.4" r="2.3"/><circle cx="154.4" cy="185.1" r="2.3"/><circle cx="157.1" cy="167.1" r="2.3"/><circle cx="117.5" cy="214.8" r="2.3"/><circle cx="111.1" cy="168.4" r="2.3"/><circle cx="141.6" cy="183.2" r="2.3"/><circle cx="134.8" cy="167.3" r="2.3"/><circle cx="122.0" cy="171.1" r="2.3"/><circle cx="164.3" cy="185.5" r="2.3"/><circle cx="160.4" cy="197.5" r="2.3"/><circle cx="150.8" cy="187.1" r="2.3"/><circle cx="135.1" cy="174.3" r="2.3"/><circle cx="105.6" cy="205.9" r="2.3"/><circle cx="103.7" cy="188.9" r="2.3"/><circle cx="108.6" cy="209.3" r="2.3"/><circle cx="145.3" cy="214.0" r="2.3"/><circle cx="140.5" cy="219.0" r="2.3"/><circle cx="148.5" cy="172.7" r="2.3"/><circle cx="121.2" cy="213.8" r="2.3"/><circle cx="120.3" cy="172.7" r="2.3"/><circle cx="120.7" cy="197.2" r="2.3"/><circle cx="109.4" cy="210.8" r="2.3"/><circle cx="116.1" cy="197.9" r="2.3"/><circle cx="109.0" cy="199.5" r="2.3"/><circle cx="148.3" cy="194.8" r="2.3"/><circle cx="147.2" cy="188.9" r="2.3"/><circle cx="106.4" cy="220.1" r="2.3"/><circle cx="135.6" cy="196.8" r="2.3"/><circle cx="123.6" cy="192.2" r="2.3"/><circle cx="101.5" cy="217.9" r="2.3"/><circle cx="145.0" cy="167.7" r="2.3"/><circle cx="110.1" cy="214.0" r="2.3"/><circle cx="113.4" cy="177.4" r="2.3"/><circle cx="113.3" cy="196.3" r="2.3"/><circle cx="144.2" cy="173.3" r="2.3"/><circle cx="128.4" cy="200.1" r="2.3"/><circle cx="111.8" cy="176.4" r="2.3"/><circle cx="108.9" cy="198.0" r="2.3"/><circle cx="144.9" cy="185.9" r="2.3"/><circle cx="136.7" cy="186.8" r="2.3"/><circle cx="124.7" cy="206.5" r="2.3"/><circle cx="136.7" cy="212.3" r="2.3"/><circle cx="119.0" cy="171.0" r="2.3"/><circle cx="148.0" cy="183.9" r="2.3"/><circle cx="120.6" cy="180.7" r="2.3"/><circle cx="107.3" cy="176.9" r="2.3"/><circle cx="129.8" cy="200.0" r="2.3"/><circle cx="113.8" cy="175.1" r="2.3"/><circle cx="104.1" cy="220.9" r="2.3"/><circle cx="152.2" cy="164.2" r="2.3"/><circle cx="110.5" cy="164.9" r="2.3"/><circle cx="122.9" cy="187.0" r="2.3"/><circle cx="103.1" cy="190.1" r="2.3"/><circle cx="155.8" cy="183.4" r="2.3"/><circle cx="147.4" cy="208.0" r="2.3"/><circle cx="127.7" cy="167.2" r="2.3"/><circle cx="115.6" cy="168.2" r="2.3"/><circle cx="103.6" cy="181.1" r="2.3"/><circle cx="117.0" cy="206.3" r="2.3"/><circle cx="138.3" cy="209.8" r="2.3"/><circle cx="161.8" cy="177.1" r="2.3"/><circle cx="110.4" cy="170.2" r="2.3"/><circle cx="123.0" cy="213.0" r="2.3"/><circle cx="132.4" cy="190.8" r="2.3"/><circle cx="142.3" cy="180.4" r="2.3"/><circle cx="110.5" cy="174.9" r="2.3"/><circle cx="125.7" cy="169.6" r="2.3"/><circle cx="147.7" cy="171.9" r="2.3"/><circle cx="127.1" cy="164.4" r="2.3"/><circle cx="138.9" cy="218.5" r="2.3"/><circle cx="112.5" cy="181.1" r="2.3"/><circle cx="125.8" cy="184.8" r="2.3"/><circle cx="110.9" cy="206.3" r="2.3"/><circle cx="134.6" cy="162.3" r="2.3"/><circle cx="160.1" cy="195.6" r="2.3"/><circle cx="107.7" cy="209.1" r="2.3"/><circle cx="137.7" cy="171.3" r="2.3"/><circle cx="113.2" cy="166.0" r="2.3"/><circle cx="137.1" cy="167.0" r="2.3"/><circle cx="121.9" cy="215.2" r="2.3"/><circle cx="129.1" cy="218.6" r="2.3"/><circle cx="155.3" cy="183.0" r="2.3"/><circle cx="147.9" cy="164.5" r="2.3"/><circle cx="139.7" cy="177.6" r="2.3"/><circle cx="120.3" cy="164.1" r="2.3"/><circle cx="146.2" cy="164.6" r="2.3"/><circle cx="112.8" cy="180.2" r="2.3"/><circle cx="154.1" cy="173.2" r="2.3"/><circle cx="118.2" cy="206.6" r="2.3"/><circle cx="151.1" cy="163.7" r="2.3"/><circle cx="124.6" cy="181.9" r="2.3"/><circle cx="135.7" cy="185.6" r="2.3"/><circle cx="112.2" cy="169.8" r="2.3"/><circle cx="99.0" cy="208.6" r="2.3"/><circle cx="149.2" cy="196.1" r="2.3"/><circle cx="150.0" cy="194.6" r="2.3"/><circle cx="133.3" cy="190.7" r="2.3"/><circle cx="121.2" cy="169.6" r="2.3"/><circle cx="149.2" cy="171.5" r="2.3"/><circle cx="149.1" cy="173.8" r="2.3"/><circle cx="137.5" cy="181.6" r="2.3"/><circle cx="150.8" cy="195.8" r="2.3"/><circle cx="138.1" cy="217.6" r="2.3"/><circle cx="120.7" cy="192.2" r="2.3"/><circle cx="143.7" cy="162.5" r="2.3"/><circle cx="133.0" cy="205.1" r="2.3"/><circle cx="137.1" cy="187.4" r="2.3"/><circle cx="132.5" cy="166.8" r="2.3"/><circle cx="131.4" cy="190.2" r="2.3"/><circle cx="115.5" cy="210.2" r="2.3"/><circle cx="113.3" cy="207.4" r="2.3"/><circle cx="115.2" cy="163.6" r="2.3"/><circle cx="149.4" cy="195.9" r="2.3"/><circle cx="121.6" cy="216.7" r="2.3"/><circle cx="129.0" cy="162.7" r="2.3"/><circle cx="133.1" cy="171.7" r="2.3"/><circle cx="116.1" cy="196.1" r="2.3"/><circle cx="140.7" cy="185.0" r="2.3"/><circle cx="148.5" cy="189.9" r="2.3"/><circle cx="155.5" cy="206.3" r="2.3"/><circle cx="110.2" cy="218.4" r="2.3"/><circle cx="150.0" cy="191.6" r="2.3"/><circle cx="130.5" cy="210.5" r="2.3"/><circle cx="127.7" cy="184.3" r="2.3"/><circle cx="106.9" cy="186.8" r="2.3"/><circle cx="150.3" cy="213.4" r="2.3"/><circle cx="108.1" cy="192.7" r="2.3"/><circle cx="108.8" cy="168.6" r="2.3"/><circle cx="118.6" cy="211.4" r="2.3"/><circle cx="143.1" cy="185.4" r="2.3"/><circle cx="152.1" cy="202.1" r="2.3"/><circle cx="128.2" cy="206.2" r="2.3"/><circle cx="136.0" cy="214.2" r="2.3"/><circle cx="135.9" cy="169.6" r="2.3"/><circle cx="109.7" cy="170.0" r="2.3"/><circle cx="143.6" cy="174.6" r="2.3"/><circle cx="132.1" cy="180.1" r="2.3"/><circle cx="112.3" cy="171.8" r="2.3"/><circle cx="101.5" cy="199.0" r="2.3"/><circle cx="129.1" cy="187.9" r="2.3"/><circle cx="127.9" cy="182.0" r="2.3"/><circle cx="110.0" cy="171.6" r="2.3"/><circle cx="154.3" cy="167.0" r="2.3"/><circle cx="115.6" cy="185.2" r="2.3"/><circle cx="110.5" cy="175.7" r="2.3"/><circle cx="139.9" cy="202.3" r="2.3"/><circle cx="126.4" cy="167.1" r="2.3"/><circle cx="135.1" cy="211.8" r="2.3"/><circle cx="137.3" cy="214.1" r="2.3"/><circle cx="112.1" cy="175.1" r="2.3"/><circle cx="156.3" cy="182.5" r="2.3"/><circle cx="110.8" cy="194.5" r="2.3"/><circle cx="143.2" cy="211.1" r="2.3"/><circle cx="140.1" cy="214.1" r="2.3"/><circle cx="120.0" cy="190.5" r="2.3"/><circle cx="118.0" cy="192.1" r="2.3"/><circle cx="148.1" cy="188.4" r="2.3"/><circle cx="144.2" cy="164.7" r="2.3"/><circle cx="127.7" cy="172.0" r="2.3"/><circle cx="105.0" cy="207.0" r="2.3"/><circle cx="127.5" cy="188.3" r="2.3"/><circle cx="112.5" cy="177.1" r="2.3"/><circle cx="147.7" cy="168.0" r="2.3"/><circle cx="136.8" cy="179.9" r="2.3"/><circle cx="136.6" cy="188.2" r="2.3"/><circle cx="142.0" cy="208.8" r="2.3"/><circle cx="134.8" cy="166.0" r="2.3"/><circle cx="102.2" cy="193.6" r="2.3"/><circle cx="153.1" cy="178.9" r="2.3"/><circle cx="147.4" cy="191.0" r="2.3"/><circle cx="130.0" cy="212.5" r="2.3"/><circle cx="138.0" cy="218.2" r="2.3"/><circle cx="163.1" cy="171.8" r="2.3"/><circle cx="140.2" cy="172.7" r="2.3"/><circle cx="147.8" cy="181.9" r="2.3"/><circle cx="126.9" cy="192.5" r="2.3"/><circle cx="107.1" cy="191.7" r="2.3"/><circle cx="130.7" cy="206.3" r="2.3"/><circle cx="135.0" cy="167.2" r="2.3"/><circle cx="122.7" cy="206.9" r="2.3"/><circle cx="104.6" cy="214.7" r="2.3"/><circle cx="117.8" cy="215.1" r="2.3"/><circle cx="135.2" cy="193.2" r="2.3"/><circle cx="123.1" cy="218.0" r="2.3"/><circle cx="102.6" cy="182.9" r="2.3"/><circle cx="136.6" cy="193.2" r="2.3"/><circle cx="116.8" cy="194.7" r="2.3"/><circle cx="138.6" cy="174.1" r="2.3"/><circle cx="119.7" cy="172.1" r="2.3"/><circle cx="120.9" cy="199.2" r="2.3"/><circle cx="109.0" cy="191.4" r="2.3"/><circle cx="118.8" cy="191.2" r="2.3"/><circle cx="154.1" cy="180.2" r="2.3"/><circle cx="139.8" cy="165.4" r="2.3"/><circle cx="137.4" cy="163.0" r="2.3"/><circle cx="156.1" cy="172.4" r="2.3"/><circle cx="148.6" cy="219.0" r="2.3"/><circle cx="106.7" cy="212.7" r="2.3"/><circle cx="126.8" cy="169.5" r="2.3"/><circle cx="112.2" cy="205.6" r="2.3"/><circle cx="152.3" cy="205.0" r="2.3"/><circle cx="121.3" cy="191.4" r="2.3"/><circle cx="125.5" cy="198.5" r="2.3"/><circle cx="120.3" cy="161.4" r="2.3"/><circle cx="108.6" cy="218.5" r="2.3"/><circle cx="133.0" cy="206.3" r="2.3"/><circle cx="147.1" cy="171.9" r="2.3"/><circle cx="125.2" cy="201.0" r="2.3"/><circle cx="130.8" cy="218.3" r="2.3"/><circle cx="104.0" cy="206.3" r="2.3"/><circle cx="130.5" cy="192.8" r="2.3"/><circle cx="133.7" cy="205.6" r="2.3"/><circle cx="119.6" cy="182.7" r="2.3"/><circle cx="124.5" cy="196.5" r="2.3"/><circle cx="127.3" cy="196.7" r="2.3"/><circle cx="108.4" cy="200.0" r="2.3"/><circle cx="124.7" cy="174.9" r="2.3"/><circle cx="133.8" cy="201.9" r="2.3"/><circle cx="157.8" cy="197.2" r="2.3"/><circle cx="121.1" cy="204.3" r="2.3"/><circle cx="99.7" cy="215.0" r="2.3"/><circle cx="139.0" cy="218.6" r="2.3"/><circle cx="121.9" cy="188.9" r="2.3"/><circle cx="146.8" cy="206.2" r="2.3"/><circle cx="133.6" cy="190.4" r="2.3"/><circle cx="112.3" cy="219.9" r="2.3"/><circle cx="128.0" cy="169.9" r="2.3"/><circle cx="105.4" cy="200.0" r="2.3"/><circle cx="151.5" cy="190.3" r="2.3"/><circle cx="124.2" cy="186.7" r="2.3"/><circle cx="108.7" cy="217.9" r="2.3"/><circle cx="111.8" cy="178.7" r="2.3"/><circle cx="109.6" cy="176.0" r="2.3"/><circle cx="141.7" cy="190.2" r="2.3"/><circle cx="143.7" cy="190.5" r="2.3"/><circle cx="102.4" cy="184.1" r="2.3"/><circle cx="133.1" cy="180.3" r="2.3"/><circle cx="138.5" cy="191.4" r="2.3"/><circle cx="127.6" cy="180.6" r="2.3"/><circle cx="114.5" cy="167.5" r="2.3"/><circle cx="105.8" cy="186.1" r="2.3"/><circle cx="108.1" cy="186.3" r="2.3"/><circle cx="135.3" cy="168.7" r="2.3"/><circle cx="119.6" cy="206.0" r="2.3"/><circle cx="99.8" cy="216.3" r="2.3"/><circle cx="100.2" cy="214.8" r="2.3"/><circle cx="128.8" cy="180.8" r="2.3"/><circle cx="103.6" cy="174.5" r="2.3"/><circle cx="119.5" cy="201.3" r="2.3"/><circle cx="107.3" cy="179.0" r="2.3"/><circle cx="134.9" cy="206.3" r="2.3"/><circle cx="108.4" cy="181.3" r="2.3"/><circle cx="117.4" cy="197.4" r="2.3"/><circle cx="146.7" cy="204.4" r="2.3"/><circle cx="136.9" cy="218.8" r="2.3"/><circle cx="162.6" cy="188.2" r="2.3"/><circle cx="158.5" cy="182.6" r="2.3"/><circle cx="140.4" cy="181.8" r="2.3"/><circle cx="156.8" cy="186.7" r="2.3"/><circle cx="104.6" cy="201.9" r="2.3"/><circle cx="103.8" cy="183.1" r="2.3"/><circle cx="103.7" cy="214.6" r="2.3"/><circle cx="117.2" cy="197.1" r="2.3"/><circle cx="140.3" cy="178.2" r="2.3"/><circle cx="108.0" cy="196.5" r="2.3"/><circle cx="113.9" cy="196.5" r="2.3"/><circle cx="112.0" cy="190.4" r="2.3"/><circle cx="125.8" cy="217.2" r="2.3"/><circle cx="122.4" cy="191.2" r="2.3"/><circle cx="122.8" cy="184.0" r="2.3"/><circle cx="125.7" cy="163.3" r="2.3"/><circle cx="128.2" cy="179.5" r="2.3"/><circle cx="156.0" cy="169.7" r="2.3"/><circle cx="122.9" cy="195.9" r="2.3"/><circle cx="120.5" cy="197.8" r="2.3"/><circle cx="105.1" cy="186.0" r="2.3"/><circle cx="101.5" cy="201.1" r="2.3"/><circle cx="122.3" cy="196.4" r="2.3"/><circle cx="143.2" cy="212.3" r="2.3"/><circle cx="120.6" cy="207.5" r="2.3"/><circle cx="135.3" cy="209.8" r="2.3"/><circle cx="133.5" cy="218.4" r="2.3"/><circle cx="151.5" cy="197.7" r="2.3"/><circle cx="120.3" cy="188.7" r="2.3"/><circle cx="117.1" cy="170.6" r="2.3"/><circle cx="135.9" cy="176.2" r="2.3"/><circle cx="144.1" cy="175.3" r="2.3"/><circle cx="143.1" cy="195.5" r="2.3"/><circle cx="145.0" cy="203.0" r="2.3"/><circle cx="146.3" cy="190.4" r="2.3"/><circle cx="145.0" cy="219.0" r="2.3"/><circle cx="128.6" cy="184.8" r="2.3"/><circle cx="126.1" cy="201.9" r="2.3"/><circle cx="121.6" cy="175.5" r="2.3"/><circle cx="151.4" cy="202.9" r="2.3"/><circle cx="112.0" cy="208.6" r="2.3"/><circle cx="159.6" cy="176.4" r="2.3"/><circle cx="157.0" cy="173.2" r="2.3"/><circle cx="104.2" cy="216.4" r="2.3"/><circle cx="142.1" cy="179.3" r="2.3"/><circle cx="101.3" cy="203.2" r="2.3"/><circle cx="125.1" cy="188.8" r="2.3"/><circle cx="122.7" cy="207.2" r="2.3"/><circle cx="105.3" cy="172.1" r="2.3"/><circle cx="124.7" cy="214.7" r="2.3"/><circle cx="137.0" cy="202.0" r="2.3"/><circle cx="109.3" cy="174.4" r="2.3"/><circle cx="130.4" cy="195.3" r="2.3"/><circle cx="111.2" cy="164.2" r="2.3"/><circle cx="112.4" cy="182.1" r="2.3"/><circle cx="103.0" cy="205.6" r="2.3"/><circle cx="120.4" cy="202.5" r="2.3"/><circle cx="139.7" cy="184.8" r="2.3"/><circle cx="132.3" cy="186.2" r="2.3"/><circle cx="135.7" cy="179.1" r="2.3"/><circle cx="146.5" cy="171.6" r="2.3"/><circle cx="142.0" cy="163.7" r="2.3"/><circle cx="130.1" cy="171.3" r="2.3"/><circle cx="151.3" cy="215.8" r="2.3"/><circle cx="147.5" cy="205.7" r="2.3"/><circle cx="130.9" cy="193.2" r="2.3"/><circle cx="121.9" cy="218.5" r="2.3"/><circle cx="152.1" cy="196.7" r="2.3"/><circle cx="136.9" cy="195.6" r="2.3"/><circle cx="118.1" cy="177.2" r="2.3"/><circle cx="129.4" cy="168.2" r="2.3"/><circle cx="129.3" cy="175.5" r="2.3"/><circle cx="129.0" cy="177.0" r="2.3"/><circle cx="157.6" cy="187.7" r="2.3"/><circle cx="116.0" cy="220.1" r="2.3"/><circle cx="156.3" cy="167.6" r="2.3"/><circle cx="110.1" cy="201.7" r="2.3"/><circle cx="130.0" cy="211.7" r="2.3"/><circle cx="111.7" cy="211.9" r="2.3"/><circle cx="102.0" cy="208.9" r="2.3"/><circle cx="131.9" cy="163.7" r="2.3"/><circle cx="117.0" cy="196.7" r="2.3"/><circle cx="159.4" cy="189.1" r="2.3"/><circle cx="155.9" cy="183.0" r="2.3"/><circle cx="113.5" cy="200.4" r="2.3"/><circle cx="150.0" cy="182.3" r="2.3"/><circle cx="140.7" cy="210.9" r="2.3"/><circle cx="124.8" cy="190.7" r="2.3"/><circle cx="117.7" cy="189.6" r="2.3"/><circle cx="116.2" cy="164.2" r="2.3"/><circle cx="162.1" cy="178.7" r="2.3"/><circle cx="109.9" cy="191.4" r="2.3"/><circle cx="155.4" cy="179.0" r="2.3"/><circle cx="128.2" cy="197.1" r="2.3"/><circle cx="155.3" cy="198.2" r="2.3"/><circle cx="119.9" cy="216.7" r="2.3"/><circle cx="141.0" cy="195.5" r="2.3"/><circle cx="104.7" cy="195.4" r="2.3"/><circle cx="140.6" cy="176.5" r="2.3"/><circle cx="128.7" cy="209.1" r="2.3"/><circle cx="110.4" cy="210.7" r="2.3"/><circle cx="102.9" cy="198.7" r="2.3"/><circle cx="168.2" cy="188.6" r="2.3"/><circle cx="106.5" cy="199.8" r="2.3"/><circle cx="158.8" cy="201.6" r="2.3"/><circle cx="126.6" cy="199.8" r="2.3"/><circle cx="101.9" cy="191.2" r="2.3"/><circle cx="133.1" cy="194.0" r="2.3"/><circle cx="146.7" cy="189.9" r="2.3"/><circle cx="106.8" cy="178.6" r="2.3"/><circle cx="161.1" cy="219.9" r="2.3"/><circle cx="120.7" cy="207.7" r="2.3"/><circle cx="146.2" cy="200.5" r="2.3"/><circle cx="135.2" cy="180.0" r="2.3"/><circle cx="97.6" cy="207.5" r="2.3"/><circle cx="112.6" cy="216.3" r="2.3"/><circle cx="112.6" cy="217.6" r="2.3"/><circle cx="114.9" cy="193.5" r="2.3"/><circle cx="121.7" cy="193.0" r="2.3"/><circle cx="117.8" cy="198.7" r="2.3"/><circle cx="117.6" cy="188.9" r="2.3"/><circle cx="106.4" cy="187.5" r="2.3"/><circle cx="101.8" cy="198.4" r="2.3"/><circle cx="104.8" cy="182.0" r="2.3"/><circle cx="114.7" cy="192.5" r="2.3"/><circle cx="131.7" cy="194.4" r="2.3"/><circle cx="116.9" cy="189.2" r="2.3"/><circle cx="117.4" cy="187.2" r="2.3"/><circle cx="139.8" cy="193.6" r="2.3"/><circle cx="100.0" cy="191.2" r="2.3"/><circle cx="126.0" cy="208.0" r="2.3"/><circle cx="123.2" cy="214.0" r="2.3"/><circle cx="99.6" cy="219.0" r="2.3"/><circle cx="116.3" cy="198.6" r="2.3"/><circle cx="130.3" cy="165.5" r="2.3"/><circle cx="141.4" cy="184.4" r="2.3"/><circle cx="133.1" cy="199.8" r="2.3"/><circle cx="128.8" cy="211.7" r="2.3"/><circle cx="119.3" cy="208.5" r="2.3"/><circle cx="132.3" cy="187.3" r="2.3"/><circle cx="138.0" cy="202.1" r="2.3"/><circle cx="109.7" cy="209.3" r="2.3"/><circle cx="140.1" cy="218.9" r="2.3"/><circle cx="101.6" cy="212.0" r="2.3"/><circle cx="134.5" cy="185.1" r="2.3"/><circle cx="118.6" cy="211.8" r="2.3"/><circle cx="119.1" cy="216.0" r="2.3"/><circle cx="114.3" cy="180.2" r="2.3"/><circle cx="132.7" cy="213.5" r="2.3"/><circle cx="129.4" cy="201.4" r="2.3"/><circle cx="132.7" cy="210.4" r="2.3"/><circle cx="115.2" cy="198.3" r="2.3"/><circle cx="145.4" cy="198.7" r="2.3"/><circle cx="131.5" cy="184.9" r="2.3"/><circle cx="115.4" cy="197.5" r="2.3"/><circle cx="129.4" cy="208.6" r="2.3"/><circle cx="127.1" cy="184.0" r="2.3"/><circle cx="171.1" cy="192.1" r="2.3"/><circle cx="124.3" cy="184.5" r="2.3"/><circle cx="141.3" cy="199.9" r="2.3"/><circle cx="130.0" cy="202.1" r="2.3"/><circle cx="114.8" cy="173.2" r="2.3"/><circle cx="107.9" cy="217.8" r="2.3"/><circle cx="130.4" cy="196.4" r="2.3"/><circle cx="136.7" cy="198.4" r="2.3"/><circle cx="136.1" cy="200.8" r="2.3"/><circle cx="113.1" cy="203.0" r="2.3"/><circle cx="132.4" cy="192.8" r="2.3"/><circle cx="104.7" cy="199.3" r="2.3"/><circle cx="127.3" cy="187.7" r="2.3"/><circle cx="121.5" cy="192.0" r="2.3"/><circle cx="127.4" cy="190.4" r="2.3"/><circle cx="130.1" cy="206.7" r="2.3"/><circle cx="111.6" cy="160.1" r="2.3"/><circle cx="131.3" cy="183.0" r="2.3"/><circle cx="118.4" cy="197.1" r="2.3"/><circle cx="106.3" cy="212.2" r="2.3"/><circle cx="140.5" cy="204.4" r="2.3"/><circle cx="105.6" cy="196.8" r="2.3"/><circle cx="129.6" cy="215.7" r="2.3"/><circle cx="140.0" cy="225.0" r="2.3"/><circle cx="140.0" cy="228.6" r="2.3"/><circle cx="146.0" cy="224.5" r="2.3"/><circle cx="150.0" cy="223.0" r="2.3"/><circle cx="86.9" cy="225.2" r="2.3"/><circle cx="85.3" cy="231.9" r="2.3"/><circle cx="97.0" cy="228.6" r="2.3"/><circle cx="97.0" cy="233.6" r="2.3"/><circle cx="102.1" cy="225.2" r="2.3"/><circle cx="105.4" cy="230.3" r="2.3"/><circle cx="132.3" cy="235.3" r="2.3"/><circle cx="139.0" cy="225.2" r="2.3"/><circle cx="140.7" cy="231.9" r="2.3"/><circle cx="94.2" cy="169.5" r="2.3"/><circle cx="86.7" cy="180.2" r="2.3"/><circle cx="84.0" cy="185.2" r="2.3"/><circle cx="79.0" cy="189.2" r="2.3"/><circle cx="89.1" cy="188.2" r="2.3"/><circle cx="96.2" cy="188.2" r="2.3"/><circle cx="94.2" cy="193.3" r="2.3"/><circle cx="98.2" cy="192.3" r="2.3"/><circle cx="100.2" cy="196.3" r="2.3"/><circle cx="87.1" cy="203.3" r="2.3"/><circle cx="93.1" cy="200.3" r="2.3"/><circle cx="90.1" cy="208.4" r="2.3"/><circle cx="95.2" cy="207.4" r="2.3"/><circle cx="100.2" cy="206.4" r="2.3"/><circle cx="89.1" cy="213.4" r="2.3"/><circle cx="94.2" cy="214.4" r="2.3"/><circle cx="86.1" cy="219.5" r="2.3"/><circle cx="101.2" cy="182.2" r="2.3"/><circle cx="103.2" cy="177.1" r="2.3"/><circle cx="105.2" cy="172.1" r="2.3"/><circle cx="75.0" cy="193.3" r="2.3"/><circle cx="97.0" cy="199.0" r="2.3"/><circle cx="96.0" cy="211.0" r="2.3"/><circle cx="92.0" cy="217.0" r="2.3"/><circle cx="99.0" cy="187.0" r="2.3"/><circle cx="100.0" cy="175.0" r="2.3"/><circle cx="134.4" cy="227.4" r="2.3"/><circle cx="106.0" cy="224.1" r="2.3"/><circle cx="111.6" cy="238.0" r="2.3"/><circle cx="129.7" cy="224.0" r="2.3"/><circle cx="123.3" cy="234.9" r="2.3"/><circle cx="128.8" cy="232.5" r="2.3"/><circle cx="122.0" cy="238.3" r="2.3"/><circle cx="120.4" cy="232.6" r="2.3"/><circle cx="127.1" cy="234.0" r="2.3"/><circle cx="122.2" cy="233.7" r="2.3"/><circle cx="119.8" cy="223.1" r="2.3"/><circle cx="107.9" cy="224.3" r="2.3"/><circle cx="127.5" cy="231.3" r="2.3"/><circle cx="118.8" cy="225.2" r="2.3"/><circle cx="117.4" cy="244.5" r="2.3"/><circle cx="126.4" cy="231.5" r="2.3"/><circle cx="139.4" cy="225.2" r="2.3"/><circle cx="136.3" cy="237.6" r="2.3"/><circle cx="120.1" cy="223.5" r="2.3"/><circle cx="112.3" cy="233.9" r="2.3"/><circle cx="110.8" cy="223.3" r="2.3"/><circle cx="110.9" cy="230.2" r="2.3"/><circle cx="137.2" cy="238.3" r="2.3"/><circle cx="138.3" cy="222.2" r="2.3"/><circle cx="110.6" cy="231.8" r="2.3"/><circle cx="114.3" cy="237.3" r="2.3"/><circle cx="117.0" cy="234.7" r="2.3"/><circle cx="103.8" cy="233.7" r="2.3"/><circle cx="136.9" cy="237.3" r="2.3"/><circle cx="115.0" cy="233.7" r="2.3"/><circle cx="117.4" cy="226.2" r="2.3"/><circle cx="111.4" cy="236.1" r="2.3"/><circle cx="111.2" cy="233.6" r="2.3"/><circle cx="129.3" cy="234.2" r="2.3"/><circle cx="107.3" cy="227.5" r="2.3"/><circle cx="119.3" cy="240.5" r="2.3"/><circle cx="127.6" cy="229.7" r="2.3"/><circle cx="125.4" cy="230.9" r="2.3"/><circle cx="121.2" cy="245.2" r="2.3"/><circle cx="114.0" cy="243.3" r="2.3"/><circle cx="108.3" cy="224.6" r="2.3"/><circle cx="94.7" cy="246.3" r="2.3"/><circle cx="110.2" cy="239.5" r="2.3"/><circle cx="110.2" cy="243.4" r="2.3"/><circle cx="114.4" cy="243.4" r="2.3"/><circle cx="116.1" cy="239.0" r="2.3"/><circle cx="121.1" cy="238.7" r="2.3"/><circle cx="124.5" cy="239.0" r="2.3"/><circle cx="121.1" cy="241.2" r="2.3"/><circle cx="132.1" cy="238.3" r="2.3"/><circle cx="126.2" cy="245.1" r="2.3"/><circle cx="119.1" cy="247.4" r="2.3"/><circle cx="140.5" cy="242.4" r="2.3"/><circle cx="89.2" cy="250.1" r="2.3"/><circle cx="90.4" cy="254.3" r="2.3"/><circle cx="122.0" cy="258.8" r="2.3"/><circle cx="114.7" cy="262.7" r="2.3"/><circle cx="124.0" cy="265.6" r="2.3"/><circle cx="111.4" cy="275.0" r="2.3"/><circle cx="71.2" cy="206.8" r="2.3"/><circle cx="70.7" cy="239.6" r="2.3"/><circle cx="84.0" cy="228.0" r="2.3"/><circle cx="86.0" cy="224.0" r="2.3"/><circle cx="85.5" cy="233.0" r="2.3"/><circle cx="152.6" cy="96.0" r="2.3"/><circle cx="150.0" cy="98.5" r="2.3"/><circle cx="158.4" cy="91.8" r="2.3"/><circle cx="152.6" cy="111.1" r="2.3"/><circle cx="157.6" cy="117.9" r="2.3"/><circle cx="162.6" cy="124.6" r="2.3"/><circle cx="179.8" cy="149.2" r="2.3"/><circle cx="166.8" cy="159.3" r="2.3"/><circle cx="171.9" cy="160.1" r="2.3"/><circle cx="175.3" cy="160.1" r="2.3"/><circle cx="154.2" cy="158.4" r="2.3"/><circle cx="152.6" cy="160.9" r="2.3"/><circle cx="160.1" cy="160.1" r="2.3"/><circle cx="192.1" cy="149.2" r="2.3"/><circle cx="182.0" cy="173.5" r="2.3"/><circle cx="182.0" cy="176.9" r="2.3"/><circle cx="150.0" cy="136.6" r="2.3"/><circle cx="170.2" cy="134.9" r="2.3"/><circle cx="163.5" cy="138.2" r="2.3"/><circle cx="166.8" cy="179.4" r="2.3"/><circle cx="205.8" cy="77.8" r="2.3"/><circle cx="175.0" cy="160.0" r="2.3"/><circle cx="182.8" cy="173.4" r="2.3"/><circle cx="182.8" cy="177.2" r="2.3"/><circle cx="144.9" cy="117.0" r="2.3"/><circle cx="134.5" cy="134.7" r="2.3"/><circle cx="146.7" cy="120.1" r="2.3"/><circle cx="141.5" cy="132.0" r="2.3"/><circle cx="142.6" cy="150.1" r="2.3"/><circle cx="141.0" cy="139.1" r="2.3"/><circle cx="133.4" cy="87.3" r="2.3"/><circle cx="138.7" cy="120.9" r="2.3"/><circle cx="145.4" cy="136.0" r="2.3"/><circle cx="144.6" cy="131.9" r="2.3"/><circle cx="142.5" cy="136.1" r="2.3"/><circle cx="145.7" cy="133.8" r="2.3"/><circle cx="132.1" cy="112.9" r="2.3"/><circle cx="139.2" cy="117.5" r="2.3"/><circle cx="137.6" cy="117.0" r="2.3"/><circle cx="142.7" cy="111.8" r="2.3"/><circle cx="152.4" cy="100.7" r="2.3"/><circle cx="136.8" cy="116.1" r="2.3"/><circle cx="142.5" cy="138.8" r="2.3"/><circle cx="150.6" cy="128.1" r="2.3"/><circle cx="128.0" cy="157.4" r="2.3"/><circle cx="152.4" cy="89.0" r="2.3"/><circle cx="141.4" cy="98.0" r="2.3"/><circle cx="133.5" cy="135.3" r="2.3"/><circle cx="142.9" cy="128.2" r="2.3"/>
</g>
<g fill="#ff7f0e">
<circle cx="103.2" cy="169.1" r="2.3"/><circle cx="90.1" cy="185.8" r="2.3"/><circle cx="101.2" cy="185.8" r="2.3"/><circle cx="95.2" cy="210.4" r="2.3"/><circle cx="96.2" cy="220.5" r="2.3"/><circle cx="90.1" cy="224.5" r="2.3"/><circle cx="206.6" cy="85.7" r="2.3"/><circle cx="190.8" cy="73.3" r="2.3"/><circle cx="186.0" cy="137.6" r="2.3"/><circle cx="200.2" cy="108.1" r="2.3"/><circle cx="172.2" cy="116.0" r="2.3"/><circle cx="174.6" cy="90.3" r="2.3"/><circle cx="194.1" cy="108.1" r="2.3"/><circle cx="172.4" cy="94.3" r="2.3"/><circle cx="206.9" cy="95.6" r="2.3"/><circle cx="199.3" cy="137.4" r="2.3"/><circle cx="195.8" cy="106.7" r="2.3"/><circle cx="197.7" cy="88.0" r="2.3"/><circle cx="211.7" cy="103.3" r="2.3"/><circle cx="184.1" cy="101.2" r="2.3"/><circle cx="181.2" cy="75.5" r="2.3"/><circle cx="184.1" cy="132.1" r="2.3"/><circle cx="205.7" cy="74.6" r="2.3"/><circle cx="184.1" cy="121.1" r="2.3"/><circle cx="188.8" cy="79.4" r="2.3"/><circle cx="207.1" cy="123.7" r="2.3"/><circle cx="210.7" cy="119.5" r="2.3"/><circle cx="187.8" cy="139.5" r="2.3"/><circle cx="198.3" cy="132.6" r="2.3"/><circle cx="176.5" cy="94.0" r="2.3"/><circle cx="181.5" cy="119.7" r="2.3"/><circle cx="216.4" cy="105.5" r="2.3"/><circle cx="205.6" cy="97.4" r="2.3"/><circle cx="216.8" cy="86.4" r="2.3"/><circle cx="201.1" cy="90.3" r="2.3"/><circle cx="215.1" cy="106.9" r="2.3"/><circle cx="183.7" cy="131.2" r="2.3"/><circle cx="192.0" cy="99.2" r="2.3"/><circle cx="185.2" cy="106.9" r="2.3"/><circle cx="194.3" cy="110.5" r="2.3"/><circle cx="209.6" cy="97.4" r="2.3"/><circle cx="207.1" cy="117.6" r="2.3"/><circle cx="210.4" cy="94.1" r="2.3"/><circle cx="213.2" cy="115.1" r="2.3"/><circle cx="193.5" cy="133.2" r="2.3"/><circle cx="212.5" cy="110.7" r="2.3"/><circle cx="179.6" cy="87.4" r="2.3"/><circle cx="180.8" cy="111.1" r="2.3"/><circle cx="176.2" cy="119.2" r="2.3"/><circle cx="199.8" cy="78.8" r="2.3"/><circle cx="190.2" cy="102.5" r="2.3"/><circle cx="184.5" cy="93.8" r="2.3"/><circle cx="206.4" cy="111.5" r="2.3"/><circle cx="194.2" cy="134.8" r="2.3"/><circle cx="187.7" cy="100.2" r="2.3"/><circle cx="183.3" cy="130.4" r="2.3"/><circle cx="175.0" cy="112.7" r="2.3"/><circle cx="195.1" cy="97.4" r="2.3"/><circle cx="213.2" cy="107.1" r="2.3"/><circle cx="199.9" cy="134.3" r="2.3"/><circle cx="215.4" cy="109.5" r="2.3"/><circle cx="185.7" cy="102.9" r="2.3"/><circle cx="206.9" cy="109.6" r="2.3"/><circle cx="189.7" cy="102.4" r="2.3"/><circle cx="204.9" cy="91.4" r="2.3"/><circle cx="190.3" cy="127.5" r="2.3"/><circle cx="198.1" cy="112.3" r="2.3"/><circle cx="201.3" cy="74.6" r="2.3"/><circle cx="185.9" cy="135.9" r="2.3"/><circle cx="185.8" cy="88.2" r="2.3"/><circle cx="191.8" cy="124.0" r="2.3"/><circle cx="201.0" cy="133.2" r="2.3"/><circle cx="196.6" cy="110.9" r="2.3"/><circle cx="212.0" cy="109.4" r="2.3"/><circle cx="177.0" cy="110.2" r="2.3"/><circle cx="176.1" cy="106.0" r="2.3"/><circle cx="210.7" cy="120.8" r="2.3"/><circle cx="187.9" cy="110.0" r="2.3"/><circle cx="199.1" cy="97.0" r="2.3"/><circle cx="208.0" cy="91.8" r="2.3"/><circle cx="185.5" cy="136.0" r="2.3"/><circle cx="174.9" cy="106.6" r="2.3"/><circle cx="185.8" cy="125.7" r="2.3"/><circle cx="190.8" cy="84.9" r="2.3"/><circle cx="197.8" cy="87.9" r="2.3"/><circle cx="217.0" cy="90.8" r="2.3"/><circle cx="190.9" cy="73.8" r="2.3"/><circle cx="177.4" cy="117.1" r="2.3"/><circle cx="193.8" cy="134.9" r="2.3"/><circle cx="199.1" cy="79.5" r="2.3"/><circle cx="177.6" cy="109.3" r="2.3"/><circle cx="185.2" cy="87.2" r="2.3"/><circle cx="194.8" cy="127.0" r="2.3"/><circle cx="205.1" cy="133.4" r="2.3"/><circle cx="201.4" cy="116.0" r="2.3"/><circle cx="210.3" cy="96.3" r="2.3"/><circle cx="211.7" cy="81.8" r="2.3"/><circle cx="197.6" cy="109.0" r="2.3"/><circle cx="194.3" cy="131.5" r="2.3"/><circle cx="206.6" cy="93.8" r="2.3"/><circle cx="209.1" cy="107.7" r="2.3"/><circle cx="187.5" cy="104.3" r="2.3"/><circle cx="190.1" cy="126.8" r="2.3"/><circle cx="209.9" cy="90.0" r="2.3"/><circle cx="180.0" cy="127.2" r="2.3"/><circle cx="197.8" cy="126.9" r="2.3"/><circle cx="187.1" cy="77.1" r="2.3"/><circle cx="202.2" cy="111.8" r="2.3"/><circle cx="187.0" cy="95.5" r="2.3"/><circle cx="212.7" cy="107.2" r="2.3"/><circle cx="192.7" cy="74.6" r="2.3"/><circle cx="173.3" cy="107.5" r="2.3"/><circle cx="195.9" cy="97.0" r="2.3"/><circle cx="210.7" cy="106.2" r="2.3"/><circle cx="185.5" cy="113.1" r="2.3"/><circle cx="176.0" cy="109.0" r="2.3"/><circle cx="199.3" cy="115.6" r="2.3"/><circle cx="181.6" cy="116.9" r="2.3"/><circle cx="186.7" cy="88.3" r="2.3"/><circle cx="201.0" cy="118.4" r="2.3"/><circle cx="176.6" cy="109.1" r="2.3"/><circle cx="176.2" cy="104.0" r="2.3"/><circle cx="183.4" cy="131.6" r="2.3"/><circle cx="196.2" cy="123.2" r="2.3"/><circle cx="202.7" cy="84.7" r="2.3"/><circle cx="192.6" cy="118.9" r="2.3"/><circle cx="195.1" cy="121.5" r="2.3"/><circle cx="190.1" cy="104.4" r="2.3"/><circle cx="200.7" cy="118.7" r="2.3"/><circle cx="185.3" cy="109.1" r="2.3"/><circle cx="174.6" cy="122.7" r="2.3"/><circle cx="186.1" cy="130.7" r="2.3"/><circle cx="214.0" cy="85.4" r="2.3"/><circle cx="209.5" cy="89.6" r="2.3"/><circle cx="195.8" cy="80.2" r="2.3"/><circle cx="194.3" cy="120.8" r="2.3"/><circle cx="218.3" cy="87.1" r="2.3"/><circle cx="207.2" cy="92.1" r="2.3"/><circle cx="177.0" cy="97.1" r="2.3"/><circle cx="201.7" cy="76.6" r="2.3"/><circle cx="191.7" cy="90.6" r="2.3"/><circle cx="201.4" cy="85.5" r="2.3"/><circle cx="197.2" cy="80.2" r="2.3"/><circle cx="203.3" cy="133.0" r="2.3"/><circle cx="210.0" cy="85.9" r="2.3"/><circle cx="198.6" cy="129.4" r="2.3"/><circle cx="213.9" cy="102.2" r="2.3"/><circle cx="177.7" cy="93.6" r="2.3"/><circle cx="187.5" cy="109.7" r="2.3"/><circle cx="172.5" cy="85.1" r="2.3"/><circle cx="202.6" cy="102.1" r="2.3"/><circle cx="209.8" cy="124.2" r="2.3"/><circle cx="186.6" cy="93.7" r="2.3"/><circle cx="184.1" cy="131.3" r="2.3"/><circle cx="175.8" cy="86.9" r="2.3"/><circle cx="206.8" cy="113.1" r="2.3"/><circle cx="213.4" cy="81.0" r="2.3"/><circle cx="200.1" cy="110.3" r="2.3"/><circle cx="201.2" cy="104.1" r="2.3"/><circle cx="199.8" cy="80.6" r="2.3"/><circle cx="218.1" cy="100.5" r="2.3"/><circle cx="178.2" cy="119.9" r="2.3"/><circle cx="201.2" cy="127.1" r="2.3"/><circle cx="202.4" cy="114.3" r="2.3"/><circle cx="192.5" cy="114.0" r="2.3"/><circle cx="212.8" cy="77.6" r="2.3"/><circle cx="209.9" cy="77.7" r="2.3"/><circle cx="196.4" cy="72.3" r="2.3"/><circle cx="187.2" cy="121.2" r="2.3"/><circle cx="185.2" cy="108.3" r="2.3"/><circle cx="187.1" cy="123.0" r="2.3"/><circle cx="195.8" cy="120.5" r="2.3"/><circle cx="197.5" cy="133.1" r="2.3"/><circle cx="173.0" cy="122.8" r="2.3"/><circle cx="212.8" cy="115.2" r="2.3"/><circle cx="210.8" cy="77.8" r="2.3"/><circle cx="197.7" cy="73.7" r="2.3"/><circle cx="190.7" cy="75.1" r="2.3"/><circle cx="174.4" cy="122.7" r="2.3"/><circle cx="193.2" cy="88.9" r="2.3"/><circle cx="188.8" cy="93.5" r="2.3"/><circle cx="183.1" cy="110.9" r="2.3"/><circle cx="173.8" cy="119.6" r="2.3"/><circle cx="194.9" cy="74.6" r="2.3"/><circle cx="212.4" cy="115.5" r="2.3"/><circle cx="204.8" cy="132.8" r="2.3"/><circle cx="187.8" cy="87.1" r="2.3"/><circle cx="204.0" cy="72.7" r="2.3"/><circle cx="188.8" cy="114.0" r="2.3"/><circle cx="207.2" cy="101.2" r="2.3"/><circle cx="209.7" cy="94.7" r="2.3"/><circle cx="176.7" cy="112.9" r="2.3"/><circle cx="193.3" cy="96.4" r="2.3"/><circle cx="198.3" cy="82.7" r="2.3"/><circle cx="174.1" cy="112.6" r="2.3"/><circle cx="205.5" cy="82.1" r="2.3"/><circle cx="214.6" cy="98.5" r="2.3"/><circle cx="184.5" cy="129.5" r="2.3"/><circle cx="192.8" cy="124.6" r="2.3"/><circle cx="210.6" cy="78.7" r="2.3"/><circle cx="208.1" cy="85.7" r="2.3"/><circle cx="179.5" cy="116.8" r="2.3"/><circle cx="197.4" cy="114.3" r="2.3"/><circle cx="215.8" cy="79.7" r="2.3"/><circle cx="174.9" cy="86.1" r="2.3"/><circle cx="185.4" cy="115.7" r="2.3"/><circle cx="183.2" cy="86.7" r="2.3"/><circle cx="212.0" cy="102.0" r="2.3"/><circle cx="191.9" cy="113.7" r="2.3"/><circle cx="213.7" cy="85.9" r="2.3"/><circle cx="211.7" cy="81.4" r="2.3"/><circle cx="205.2" cy="108.0" r="2.3"/><circle cx="188.8" cy="129.0" r="2.3"/><circle cx="186.8" cy="89.1" r="2.3"/><circle cx="187.8" cy="101.9" r="2.3"/><circle cx="197.7" cy="123.0" r="2.3"/><circle cx="182.4" cy="89.3" r="2.3"/><circle cx="188.0" cy="125.8" r="2.3"/><circle cx="203.9" cy="126.3" r="2.3"/><circle cx="212.0" cy="119.8" r="2.3"/><circle cx="184.5" cy="88.0" r="2.3"/><circle cx="198.3" cy="75.0" r="2.3"/><circle cx="202.9" cy="126.4" r="2.3"/><circle cx="181.9" cy="116.6" r="2.3"/><circle cx="201.0" cy="124.4" r="2.3"/><circle cx="182.8" cy="84.9" r="2.3"/><circle cx="216.9" cy="87.3" r="2.3"/><circle cx="216.5" cy="99.6" r="2.3"/><circle cx="196.9" cy="98.4" r="2.3"/><circle cx="207.8" cy="79.6" r="2.3"/><circle cx="198.2" cy="83.0" r="2.3"/><circle cx="200.0" cy="101.7" r="2.3"/><circle cx="183.0" cy="125.6" r="2.3"/><circle cx="175.6" cy="83.2" r="2.3"/><circle cx="207.5" cy="130.4" r="2.3"/><circle cx="175.7" cy="95.3" r="2.3"/><circle cx="205.6" cy="96.5" r="2.3"/><circle cx="204.0" cy="77.7" r="2.3"/><circle cx="175.8" cy="127.0" r="2.3"/><circle cx="200.0" cy="135.6" r="2.3"/><circle cx="195.5" cy="122.2" r="2.3"/><circle cx="197.4" cy="136.3" r="2.3"/><circle cx="174.5" cy="106.9" r="2.3"/><circle cx="173.2" cy="86.0" r="2.3"/><circle cx="216.4" cy="93.3" r="2.3"/><circle cx="199.6" cy="89.8" r="2.3"/><circle cx="176.6" cy="108.9" r="2.3"/><circle cx="208.2" cy="75.1" r="2.3"/><circle cx="182.4" cy="125.5" r="2.3"/><circle cx="173.2" cy="109.5" r="2.3"/><circle cx="188.7" cy="83.9" r="2.3"/><circle cx="197.5" cy="126.5" r="2.3"/><circle cx="180.1" cy="84.6" r="2.3"/><circle cx="205.5" cy="83.8" r="2.3"/><circle cx="198.3" cy="134.7" r="2.3"/><circle cx="214.2" cy="98.6" r="2.3"/><circle cx="206.4" cy="114.8" r="2.3"/><circle cx="191.6" cy="111.6" r="2.3"/><circle cx="179.4" cy="85.6" r="2.3"/><circle cx="192.8" cy="73.3" r="2.3"/><circle cx="195.6" cy="114.1" r="2.3"/><circle cx="211.3" cy="79.6" r="2.3"/><circle cx="191.6" cy="133.0" r="2.3"/><circle cx="193.7" cy="90.9" r="2.3"/><circle cx="177.7" cy="93.5" r="2.3"/><circle cx="210.0" cy="100.1" r="2.3"/><circle cx="214.9" cy="110.5" r="2.3"/><circle cx="197.3" cy="130.9" r="2.3"/><circle cx="201.7" cy="130.2" r="2.3"/><circle cx="212.9" cy="89.4" r="2.3"/><circle cx="198.2" cy="105.2" r="2.3"/><circle cx="195.5" cy="131.2" r="2.3"/><circle cx="192.1" cy="107.2" r="2.3"/><circle cx="207.0" cy="100.7" r="2.3"/><circle cx="185.9" cy="82.6" r="2.3"/><circle cx="189.5" cy="137.7" r="2.3"/><circle cx="200.5" cy="79.3" r="2.3"/><circle cx="174.8" cy="95.5" r="2.3"/><circle cx="179.5" cy="77.9" r="2.3"/><circle cx="199.7" cy="112.1" r="2.3"/><circle cx="183.1" cy="136.7" r="2.3"/><circle cx="184.0" cy="94.7" r="2.3"/><circle cx="190.1" cy="88.6" r="2.3"/><circle cx="194.6" cy="87.9" r="2.3"/><circle cx="198.2" cy="135.8" r="2.3"/><circle cx="178.3" cy="81.9" r="2.3"/><circle cx="212.1" cy="87.1" r="2.3"/><circle cx="177.1" cy="80.2" r="2.3"/><circle cx="182.2" cy="133.9" r="2.3"/><circle cx="199.2" cy="111.2" r="2.3"/><circle cx="173.0" cy="101.9" r="2.3"/><circle cx="187.4" cy="135.3" r="2.3"/><circle cx="181.2" cy="112.3" r="2.3"/><circle cx="204.4" cy="112.7" r="2.3"/><circle cx="200.0" cy="100.5" r="2.3"/><circle cx="184.5" cy="112.8" r="2.3"/><circle cx="207.5" cy="127.3" r="2.3"/><circle cx="204.3" cy="88.7" r="2.3"/><circle cx="181.9" cy="84.1" r="2.3"/><circle cx="186.3" cy="80.1" r="2.3"/><circle cx="189.8" cy="99.9" r="2.3"/><circle cx="194.8" cy="126.1" r="2.3"/><circle cx="207.9" cy="92.1" r="2.3"/><circle cx="182.9" cy="129.9" r="2.3"/><circle cx="192.7" cy="108.2" r="2.3"/><circle cx="211.4" cy="110.1" r="2.3"/><circle cx="172.8" cy="105.2" r="2.3"/><circle cx="188.6" cy="83.2" r="2.3"/><circle cx="186.0" cy="108.9" r="2.3"/><circle cx="197.0" cy="102.9" r="2.3"/><circle cx="195.9" cy="77.3" r="2.3"/><circle cx="189.1" cy="139.5" r="2.3"/><circle cx="197.4" cy="120.8" r="2.3"/><circle cx="207.1" cy="78.3" r="2.3"/><circle cx="197.3" cy="128.3" r="2.3"/><circle cx="215.4" cy="100.2" r="2.3"/><circle cx="185.8" cy="103.1" r="2.3"/><circle cx="202.8" cy="129.4" r="2.3"/><circle cx="194.8" cy="95.1" r="2.3"/><circle cx="183.0" cy="113.8" r="2.3"/><circle cx="197.3" cy="130.6" r="2.3"/><circle cx="207.2" cy="117.0" r="2.3"/><circle cx="178.3" cy="89.2" r="2.3"/><circle cx="182.1" cy="131.3" r="2.3"/><circle cx="178.2" cy="90.4" r="2.3"/><circle cx="216.2" cy="80.5" r="2.3"/><circle cx="175.4" cy="87.0" r="2.3"/><circle cx="177.4" cy="97.0" r="2.3"/><circle cx="193.7" cy="91.4" r="2.3"/><circle cx="185.4" cy="121.0" r="2.3"/><circle cx="190.3" cy="117.6" r="2.3"/><circle cx="194.4" cy="107.5" r="2.3"/><circle cx="202.6" cy="114.9" r="2.3"/><circle cx="185.6" cy="123.1" r="2.3"/><circle cx="188.4" cy="112.7" r="2.3"/><circle cx="192.9" cy="122.0" r="2.3"/><circle cx="194.2" cy="88.1" r="2.3"/><circle cx="193.8" cy="92.8" r="2.3"/><circle cx="188.2" cy="75.4" r="2.3"/><circle cx="187.5" cy="110.0" r="2.3"/><circle cx="186.6" cy="103.3" r="2.3"/><circle cx="186.3" cy="128.8" r="2.3"/><circle cx="200.6" cy="116.4" r="2.3"/><circle cx="192.8" cy="90.0" r="2.3"/><circle cx="181.4" cy="105.3" r="2.3"/><circle cx="198.3" cy="123.7" r="2.3"/><circle cx="195.0" cy="100.1" r="2.3"/><circle cx="180.9" cy="82.3" r="2.3"/><circle cx="194.5" cy="116.9" r="2.3"/><circle cx="219.3" cy="92.3" r="2.3"/><circle cx="196.1" cy="82.1" r="2.3"/><circle cx="194.6" cy="98.1" r="2.3"/><circle cx="193.6" cy="78.2" r="2.3"/><circle cx="195.3" cy="98.0" r="2.3"/><circle cx="207.7" cy="122.2" r="2.3"/><circle cx="185.1" cy="113.7" r="2.3"/><circle cx="179.4" cy="99.0" r="2.3"/><circle cx="180.0" cy="109.6" r="2.3"/><circle cx="194.5" cy="113.5" r="2.3"/><circle cx="207.1" cy="116.2" r="2.3"/><circle cx="176.7" cy="81.9" r="2.3"/><circle cx="190.1" cy="85.2" r="2.3"/><circle cx="178.4" cy="108.3" r="2.3"/><circle cx="196.1" cy="92.0" r="2.3"/><circle cx="179.8" cy="91.6" r="2.3"/><circle cx="193.0" cy="117.0" r="2.3"/><circle cx="182.2" cy="105.5" r="2.3"/><circle cx="214.1" cy="95.4" r="2.3"/><circle cx="199.8" cy="132.9" r="2.3"/><circle cx="201.1" cy="89.2" r="2.3"/><circle cx="197.4" cy="89.7" r="2.3"/><circle cx="190.9" cy="82.1" r="2.3"/><circle cx="193.3" cy="132.8" r="2.3"/><circle cx="193.5" cy="114.6" r="2.3"/><circle cx="186.9" cy="83.9" r="2.3"/><circle cx="187.7" cy="116.0" r="2.3"/><circle cx="185.1" cy="92.7" r="2.3"/><circle cx="194.4" cy="128.8" r="2.3"/><circle cx="212.5" cy="84.0" r="2.3"/><circle cx="196.0" cy="95.4" r="2.3"/><circle cx="199.9" cy="126.9" r="2.3"/><circle cx="194.0" cy="76.7" r="2.3"/><circle cx="193.5" cy="125.1" r="2.3"/><circle cx="193.7" cy="118.4" r="2.3"/><circle cx="215.6" cy="88.3" r="2.3"/><circle cx="183.2" cy="126.5" r="2.3"/><circle cx="185.4" cy="83.1" r="2.3"/><circle cx="200.6" cy="131.6" r="2.3"/><circle cx="187.0" cy="99.7" r="2.3"/><circle cx="183.9" cy="103.0" r="2.3"/><circle cx="216.0" cy="107.4" r="2.3"/><circle cx="189.8" cy="132.7" r="2.3"/><circle cx="207.8" cy="84.5" r="2.3"/><circle cx="202.9" cy="132.6" r="2.3"/><circle cx="174.3" cy="114.1" r="2.3"/><circle cx="192.1" cy="128.4" r="2.3"/><circle cx="214.7" cy="89.0" r="2.3"/><circle cx="211.7" cy="108.2" r="2.3"/><circle cx="199.1" cy="130.8" r="2.3"/><circle cx="199.8" cy="97.5" r="2.3"/><circle cx="180.6" cy="78.0" r="2.3"/><circle cx="196.0" cy="110.9" r="2.3"/><circle cx="197.4" cy="92.0" r="2.3"/><circle cx="185.6" cy="122.3" r="2.3"/><circle cx="212.4" cy="105.7" r="2.3"/><circle cx="210.3" cy="99.1" r="2.3"/><circle cx="207.5" cy="121.6" r="2.3"/><circle cx="203.9" cy="83.5" r="2.3"/><circle cx="189.3" cy="125.3" r="2.3"/><circle cx="200.3" cy="85.3" r="2.3"/><circle cx="186.2" cy="118.8" r="2.3"/><circle cx="178.0" cy="124.7" r="2.3"/><circle cx="184.3" cy="104.8" r="2.3"/><circle cx="190.6" cy="88.7" r="2.3"/><circle cx="184.9" cy="124.4" r="2.3"/><circle cx="202.2" cy="72.9" r="2.3"/><circle cx="187.9" cy="128.0" r="2.3"/><circle cx="192.0" cy="86.8" r="2.3"/><circle cx="189.7" cy="106.4" r="2.3"/><circle cx="183.9" cy="123.4" r="2.3"/><circle cx="184.1" cy="98.7" r="2.3"/><circle cx="193.4" cy="76.7" r="2.3"/><circle cx="185.1" cy="137.9" r="2.3"/><circle cx="188.9" cy="95.2" r="2.3"/><circle cx="179.3" cy="120.8" r="2.3"/><circle cx="190.4" cy="101.4" r="2.3"/><circle cx="196.8" cy="80.2" r="2.3"/><circle cx="201.0" cy="114.8" r="2.3"/><circle cx="213.4" cy="110.4" r="2.3"/><circle cx="182.1" cy="109.2" r="2.3"/><circle cx="199.3" cy="104.4" r="2.3"/><circle cx="192.8" cy="89.2" r="2.3"/><circle cx="204.4" cy="94.5" r="2.3"/><circle cx="185.8" cy="124.8" r="2.3"/><circle cx="172.1" cy="115.4" r="2.3"/><circle cx="201.3" cy="86.2" r="2.3"/><circle cx="165.2" cy="116.6" r="2.3"/><circle cx="165.0" cy="105.4" r="2.3"/><circle cx="167.7" cy="92.0" r="2.3"/><circle cx="162.4" cy="112.5" r="2.3"/><circle cx="170.2" cy="93.6" r="2.3"/><circle cx="165.4" cy="119.3" r="2.3"/><circle cx="169.1" cy="97.2" r="2.3"/><circle cx="171.3" cy="108.2" r="2.3"/><circle cx="170.3" cy="124.2" r="2.3"/><circle cx="166.9" cy="107.1" r="2.3"/><circle cx="171.3" cy="125.2" r="2.3"/><circle cx="161.3" cy="110.6" r="2.3"/><circle cx="169.6" cy="88.8" r="2.3"/><circle cx="168.7" cy="103.4" r="2.3"/><circle cx="170.7" cy="106.4" r="2.3"/><circle cx="171.4" cy="117.7" r="2.3"/><circle cx="169.6" cy="120.7" r="2.3"/><circle cx="167.7" cy="115.6" r="2.3"/><circle cx="163.1" cy="98.1" r="2.3"/><circle cx="164.1" cy="109.0" r="2.3"/><circle cx="163.2" cy="106.2" r="2.3"/><circle cx="167.5" cy="85.1" r="2.3"/><circle cx="165.6" cy="93.4" r="2.3"/><circle cx="171.6" cy="111.8" r="2.3"/><circle cx="165.5" cy="90.4" r="2.3"/><circle cx="167.2" cy="121.1" r="2.3"/><circle cx="165.8" cy="108.4" r="2.3"/><circle cx="165.5" cy="117.9" r="2.3"/><circle cx="163.9" cy="103.8" r="2.3"/><circle cx="171.2" cy="94.1" r="2.3"/><circle cx="168.4" cy="108.9" r="2.3"/><circle cx="165.7" cy="89.3" r="2.3"/><circle cx="169.1" cy="102.6" r="2.3"/><circle cx="164.7" cy="99.3" r="2.3"/><circle cx="166.7" cy="102.5" r="2.3"/><circle cx="169.2" cy="86.4" r="2.3"/><circle cx="152.2" cy="94.0" r="2.3"/><circle cx="151.5" cy="87.5" r="2.3"/><circle cx="156.6" cy="93.3" r="2.3"/><circle cx="164.1" cy="86.6" r="2.3"/><circle cx="155.9" cy="87.5" r="2.3"/><circle cx="164.5" cy="85.4" r="2.3"/><circle cx="163.0" cy="86.6" r="2.3"/><circle cx="153.7" cy="89.1" r="2.3"/><circle cx="161.1" cy="90.6" r="2.3"/><circle cx="158.8" cy="97.6" r="2.3"/><circle cx="152.2" cy="92.8" r="2.3"/><circle cx="150.2" cy="91.7" r="2.3"/><circle cx="156.3" cy="98.4" r="2.3"/><circle cx="153.9" cy="89.4" r="2.3"/><circle cx="159.3" cy="88.5" r="2.3"/><circle cx="157.3" cy="92.1" r="2.3"/><circle cx="161.3" cy="86.9" r="2.3"/><circle cx="150.9" cy="85.8" r="2.3"/><circle cx="160.1" cy="86.4" r="2.3"/><circle cx="152.8" cy="92.2" r="2.3"/><circle cx="154.9" cy="108.1" r="2.3"/><circle cx="168.5" cy="128.9" r="2.3"/><circle cx="159.5" cy="112.1" r="2.3"/><circle cx="151.8" cy="111.8" r="2.3"/><circle cx="161.4" cy="117.3" r="2.3"/><circle cx="158.7" cy="115.9" r="2.3"/><circle cx="166.8" cy="129.4" r="2.3"/><circle cx="158.9" cy="109.0" r="2.3"/><circle cx="155.2" cy="115.7" r="2.3"/><circle cx="168.6" cy="131.6" r="2.3"/><circle cx="155.0" cy="108.4" r="2.3"/><circle cx="162.8" cy="124.3" r="2.3"/><circle cx="163.2" cy="127.5" r="2.3"/><circle cx="157.6" cy="110.8" r="2.3"/><circle cx="165.3" cy="126.9" r="2.3"/><circle cx="154.5" cy="117.7" r="2.3"/><circle cx="154.7" cy="117.7" r="2.3"/><circle cx="150.6" cy="109.1" r="2.3"/><circle cx="155.4" cy="111.8" r="2.3"/><circle cx="154.2" cy="109.1" r="2.3"/><circle cx="157.7" cy="114.7" r="2.3"/><circle cx="150.2" cy="113.2" r="2.3"/><circle cx="218.1" cy="92.8" r="2.3"/><circle cx="174.2" cy="86.3" r="2.3"/><circle cx="191.4" cy="112.7" r="2.3"/><circle cx="200.2" cy="86.8" r="2.3"/><circle cx="192.7" cy="108.4" r="2.3"/><circle cx="190.8" cy="87.3" r="2.3"/><circle cx="172.3" cy="89.0" r="2.3"/><circle cx="194.8" cy="90.8" r="2.3"/><circle cx="181.1" cy="119.0" r="2.3"/><circle cx="204.4" cy="106.6" r="2.3"/><circle cx="201.8" cy="141.8" r="2.3"/><circle cx="202.0" cy="147.3" r="2.3"/><circle cx="189.6" cy="98.0" r="2.3"/><circle cx="189.5" cy="97.1" r="2.3"/><circle cx="190.0" cy="96.4" r="2.3"/><circle cx="223.0" cy="115.4" r="2.3"/><circle cx="199.2" cy="76.7" r="2.3"/><circle cx="200.7" cy="124.3" r="2.3"/><circle cx="210.3" cy="107.8" r="2.3"/><circle cx="204.0" cy="94.0" r="2.3"/><circle cx="214.5" cy="127.0" r="2.3"/><circle cx="192.3" cy="84.9" r="2.3"/><circle cx="188.0" cy="103.4" r="2.3"/><circle cx="180.0" cy="97.0" r="2.3"/><circle cx="207.1" cy="104.3" r="2.3"/><circle cx="203.5" cy="139.5" r="2.3"/><circle cx="184.5" cy="89.6" r="2.3"/><circle cx="213.4" cy="77.7" r="2.3"/><circle cx="178.0" cy="112.7" r="2.3"/><circle cx="203.9" cy="80.2" r="2.3"/><circle cx="184.8" cy="113.5" r="2.3"/><circle cx="217.0" cy="119.4" r="2.3"/><circle cx="177.4" cy="113.2" r="2.3"/><circle cx="185.2" cy="94.6" r="2.3"/><circle cx="177.2" cy="91.9" r="2.3"/><circle cx="209.7" cy="74.5" r="2.3"/><circle cx="206.3" cy="102.0" r="2.3"/><circle cx="166.7" cy="130.8" r="2.3"/><circle cx="196.0" cy="101.4" r="2.3"/><circle cx="213.6" cy="87.8" r="2.3"/><circle cx="179.0" cy="76.9" r="2.3"/><circle cx="179.1" cy="88.1" r="2.3"/><circle cx="186.2" cy="112.4" r="2.3"/><circle cx="199.5" cy="93.9" r="2.3"/><circle cx="188.9" cy="102.6" r="2.3"/><circle cx="194.0" cy="108.7" r="2.3"/><circle cx="223.3" cy="121.4" r="2.3"/><circle cx="191.6" cy="96.5" r="2.3"/><circle cx="182.0" cy="87.6" r="2.3"/><circle cx="226.1" cy="116.2" r="2.3"/><circle cx="178.0" cy="133.2" r="2.3"/><circle cx="194.2" cy="85.3" r="2.3"/><circle cx="178.9" cy="75.1" r="2.3"/><circle cx="205.4" cy="88.1" r="2.3"/><circle cx="236.9" cy="113.3" r="2.3"/><circle cx="217.7" cy="117.2" r="2.3"/><circle cx="191.8" cy="121.1" r="2.3"/><circle cx="173.2" cy="85.8" r="2.3"/><circle cx="201.1" cy="100.1" r="2.3"/><circle cx="199.4" cy="97.4" r="2.3"/><circle cx="196.9" cy="76.9" r="2.3"/><circle cx="179.4" cy="112.9" r="2.3"/><circle cx="202.6" cy="90.5" r="2.3"/><circle cx="164.5" cy="92.8" r="2.3"/><circle cx="175.1" cy="82.0" r="2.3"/><circle cx="184.1" cy="116.7" r="2.3"/><circle cx="205.4" cy="90.9" r="2.3"/><circle cx="202.1" cy="102.3" r="2.3"/><circle cx="177.1" cy="103.2" r="2.3"/><circle cx="191.2" cy="136.0" r="2.3"/><circle cx="140.8" cy="115.7" r="2.3"/><circle cx="132.5" cy="94.5" r="2.3"/><circle cx="146.1" cy="118.5" r="2.3"/><circle cx="139.1" cy="134.3" r="2.3"/><circle cx="147.9" cy="126.1" r="2.3"/><circle cx="129.8" cy="119.2" r="2.3"/><circle cx="136.9" cy="109.3" r="2.3"/><circle cx="133.0" cy="120.1" r="2.3"/><circle cx="147.1" cy="107.5" r="2.3"/><circle cx="133.7" cy="98.9" r="2.3"/><circle cx="136.4" cy="85.9" r="2.3"/><circle cx="147.0" cy="113.2" r="2.3"/><circle cx="138.1" cy="115.4" r="2.3"/><circle cx="149.5" cy="128.1" r="2.3"/><circle cx="143.2" cy="116.6" r="2.3"/><circle cx="141.3" cy="102.7" r="2.3"/><circle cx="134.9" cy="122.8" r="2.3"/><circle cx="144.1" cy="114.8" r="2.3"/><circle cx="133.1" cy="95.1" r="2.3"/><circle cx="128.0" cy="97.0" r="2.3"/><circle cx="153.6" cy="118.2" r="2.3"/><circle cx="132.7" cy="95.0" r="2.3"/><circle cx="141.7" cy="133.7" r="2.3"/><circle cx="152.9" cy="105.0" r="2.3"/><circle cx="134.2" cy="108.1" r="2.3"/><circle cx="130.1" cy="127.1" r="2.3"/><circle cx="165.4" cy="155.6" r="2.3"/><circle cx="171.9" cy="153.4" r="2.3"/><circle cx="171.8" cy="126.7" r="2.3"/><circle cx="176.9" cy="148.1" r="2.3"/><circle cx="166.0" cy="151.6" r="2.3"/><circle cx="143.7" cy="135.4" r="2.3"/><circle cx="171.4" cy="151.0" r="2.3"/><circle cx="140.2" cy="140.6" r="2.3"/><circle cx="145.2" cy="166.8" r="2.3"/><circle cx="161.2" cy="139.1" r="2.3"/><circle cx="130.2" cy="157.0" r="2.3"/><circle cx="170.5" cy="146.8" r="2.3"/><circle cx="182.4" cy="134.8" r="2.3"/><circle cx="141.8" cy="148.1" r="2.3"/><circle cx="149.2" cy="150.3" r="2.3"/><circle cx="150.0" cy="133.7" r="2.3"/><circle cx="142.8" cy="153.7" r="2.3"/><circle cx="150.6" cy="160.1" r="2.3"/><circle cx="153.5" cy="153.7" r="2.3"/><circle cx="164.6" cy="150.8" r="2.3"/><circle cx="155.9" cy="163.4" r="2.3"/><circle cx="166.2" cy="155.5" r="2.3"/><circle cx="158.0" cy="133.4" r="2.3"/><circle cx="138.7" cy="150.2" r="2.3"/><circle cx="144.3" cy="165.9" r="2.3"/><circle cx="155.2" cy="143.3" r="2.3"/><circle cx="151.7" cy="165.1" r="2.3"/><circle cx="143.3" cy="150.5" r="2.3"/><circle cx="161.6" cy="158.2" r="2.3"/><circle cx="135.6" cy="150.8" r="2.3"/><circle cx="162.2" cy="157.8" r="2.3"/><circle cx="157.7" cy="146.3" r="2.3"/><circle cx="155.4" cy="160.3" r="2.3"/><circle cx="142.3" cy="170.0" r="2.3"/><circle cx="188.7" cy="136.5" r="2.3"/><circle cx="146.7" cy="144.2" r="2.3"/><circle cx="151.3" cy="129.4" r="2.3"/><circle cx="173.4" cy="156.8" r="2.3"/><circle cx="163.8" cy="149.7" r="2.3"/><circle cx="191.0" cy="136.2" r="2.3"/><circle cx="175.0" cy="138.9" r="2.3"/><circle cx="151.1" cy="134.8" r="2.3"/><circle cx="148.6" cy="156.9" r="2.3"/><circle cx="131.6" cy="184.9" r="2.3"/><circle cx="141.2" cy="161.9" r="2.3"/><circle cx="168.2" cy="162.8" r="2.3"/><circle cx="160.2" cy="151.2" r="2.3"/><circle cx="140.6" cy="132.9" r="2.3"/><circle cx="152.3" cy="162.2" r="2.3"/><circle cx="135.5" cy="155.0" r="2.3"/><circle cx="136.8" cy="164.3" r="2.3"/><circle cx="132.6" cy="169.8" r="2.3"/><circle cx="192.1" cy="129.1" r="2.3"/><circle cx="132.8" cy="147.5" r="2.3"/><circle cx="159.1" cy="136.1" r="2.3"/><circle cx="152.3" cy="160.3" r="2.3"/><circle cx="130.6" cy="155.2" r="2.3"/><circle cx="170.8" cy="154.0" r="2.3"/><circle cx="182.4" cy="128.5" r="2.3"/><circle cx="152.1" cy="154.2" r="2.3"/><circle cx="176.3" cy="158.6" r="2.3"/><circle cx="183.2" cy="145.1" r="2.3"/><circle cx="164.3" cy="166.5" r="2.3"/><circle cx="164.6" cy="150.8" r="2.3"/><circle cx="172.9" cy="140.1" r="2.3"/><circle cx="140.8" cy="163.7" r="2.3"/><circle cx="145.4" cy="170.6" r="2.3"/><circle cx="155.6" cy="149.1" r="2.3"/><circle cx="157.6" cy="156.2" r="2.3"/><circle cx="136.2" cy="171.1" r="2.3"/><circle cx="189.0" cy="157.1" r="2.3"/><circle cx="153.9" cy="154.2" r="2.3"/><circle cx="159.7" cy="166.1" r="2.3"/><circle cx="138.1" cy="158.7" r="2.3"/><circle cx="156.4" cy="158.5" r="2.3"/><circle cx="132.9" cy="82.1" r="2.3"/><circle cx="125.0" cy="86.4" r="2.3"/><circle cx="114.9" cy="94.3" r="2.3"/><circle cx="122.0" cy="101.9" r="2.3"/><circle cx="122.0" cy="106.9" r="2.3"/><circle cx="122.0" cy="112.8" r="2.3"/><circle cx="132.1" cy="99.4" r="2.3"/><circle cx="136.3" cy="101.6" r="2.3"/><circle cx="139.6" cy="103.6" r="2.3"/><circle cx="128.7" cy="116.2" r="2.3"/><circle cx="106.8" cy="117.9" r="2.3"/><circle cx="108.5" cy="120.4" r="2.3"/><circle cx="116.1" cy="119.5" r="2.3"/><circle cx="124.5" cy="120.0" r="2.3"/><circle cx="105.2" cy="122.9" r="2.3"/><circle cx="113.6" cy="124.6" r="2.3"/><circle cx="121.1" cy="124.6" r="2.3"/><circle cx="127.0" cy="122.9" r="2.3"/><circle cx="135.4" cy="125.4" r="2.3"/><circle cx="142.1" cy="123.7" r="2.3"/><circle cx="144.7" cy="110.3" r="2.3"/><circle cx="116.9" cy="132.2" r="2.3"/><circle cx="115.0" cy="142.6" r="2.3"/><circle cx="111.4" cy="126.4" r="2.3"/><circle cx="108.5" cy="134.7" r="2.3"/><circle cx="115.0" cy="128.7" r="2.3"/><circle cx="115.3" cy="142.7" r="2.3"/><circle cx="112.7" cy="130.6" r="2.3"/><circle cx="103.8" cy="129.6" r="2.3"/><circle cx="120.0" cy="141.5" r="2.3"/><circle cx="109.4" cy="141.9" r="2.3"/><circle cx="104.6" cy="127.7" r="2.3"/><circle cx="116.6" cy="126.7" r="2.3"/><circle cx="111.7" cy="134.2" r="2.3"/><circle cx="118.9" cy="126.8" r="2.3"/><circle cx="117.7" cy="130.0" r="2.3"/><circle cx="120.4" cy="126.2" r="2.3"/><circle cx="103.8" cy="131.9" r="2.3"/><circle cx="116.6" cy="142.1" r="2.3"/><circle cx="117.8" cy="130.3" r="2.3"/><circle cx="106.5" cy="134.4" r="2.3"/><circle cx="122.9" cy="140.1" r="2.3"/><circle cx="112.7" cy="128.4" r="2.3"/><circle cx="116.2" cy="135.2" r="2.3"/><circle cx="112.3" cy="135.3" r="2.3"/><circle cx="119.9" cy="139.0" r="2.3"/><circle cx="116.2" cy="141.6" r="2.3"/><circle cx="108.4" cy="126.5" r="2.3"/><circle cx="110.2" cy="129.8" r="2.3"/><circle cx="108.4" cy="138.7" r="2.3"/><circle cx="119.3" cy="125.9" r="2.3"/><circle cx="118.7" cy="135.9" r="2.3"/><circle cx="121.4" cy="130.6" r="2.3"/><circle cx="117.3" cy="128.9" r="2.3"/><circle cx="108.5" cy="140.7" r="2.3"/><circle cx="118.1" cy="142.4" r="2.3"/><circle cx="109.7" cy="133.6" r="2.3"/><circle cx="120.2" cy="134.8" r="2.3"/><circle cx="108.2" cy="133.6" r="2.3"/><circle cx="110.5" cy="131.8" r="2.3"/><circle cx="106.5" cy="135.6" r="2.3"/><circle cx="112.6" cy="125.4" r="2.3"/><circle cx="109.4" cy="130.2" r="2.3"/><circle cx="116.9" cy="141.1" r="2.3"/><circle cx="116.9" cy="131.5" r="2.3"/><circle cx="112.0" cy="131.1" r="2.3"/><circle cx="122.3" cy="141.1" r="2.3"/><circle cx="110.4" cy="147.4" r="2.3"/><circle cx="109.7" cy="150.2" r="2.3"/><circle cx="115.3" cy="150.9" r="2.3"/><circle cx="119.5" cy="146.0" r="2.3"/><circle cx="121.6" cy="146.7" r="2.3"/><circle cx="130.0" cy="146.7" r="2.3"/><circle cx="135.6" cy="146.7" r="2.3"/><circle cx="138.4" cy="153.7" r="2.3"/><circle cx="141.9" cy="154.4" r="2.3"/><circle cx="144.0" cy="153.7" r="2.3"/><circle cx="118.8" cy="162.8" r="2.3"/><circle cx="132.8" cy="127.1" r="2.3"/><circle cx="137.0" cy="127.8" r="2.3"/><circle cx="141.2" cy="126.4" r="2.3"/><circle cx="137.0" cy="134.8" r="2.3"/><circle cx="141.9" cy="139.0" r="2.3"/><circle cx="138.4" cy="142.5" r="2.3"/><circle cx="141.2" cy="143.9" r="2.3"/><circle cx="143.3" cy="127.8" r="2.3"/><circle cx="144.0" cy="133.4" r="2.3"/><circle cx="132.9" cy="82.3" r="2.3"/><circle cx="124.9" cy="86.3" r="2.3"/><circle cx="114.8" cy="94.6" r="2.3"/><circle cx="179.3" cy="57.6" r="2.3"/><circle cx="177.1" cy="65.6" r="2.3"/><circle cx="192.0" cy="71.1" r="2.3"/><circle cx="103.5" cy="168.8" r="2.3"/><circle cx="215.9" cy="69.4" r="2.3"/><circle cx="231.0" cy="69.4" r="2.3"/><circle cx="210.0" cy="72.8" r="2.3"/><circle cx="226.0" cy="77.0" r="2.3"/><circle cx="221.0" cy="79.0" r="2.3"/><circle cx="215.1" cy="79.5" r="2.3"/><circle cx="216.8" cy="85.0" r="2.3"/><circle cx="220.5" cy="88.7" r="2.3"/><circle cx="226.0" cy="90.4" r="2.3"/><circle cx="239.5" cy="86.2" r="2.3"/><circle cx="230.7" cy="69.4" r="2.3"/><circle cx="239.6" cy="86.4" r="2.3"/><circle cx="215.1" cy="79.7" r="2.3"/><circle cx="221.0" cy="79.2" r="2.3"/><circle cx="226.0" cy="77.5" r="2.3"/><circle cx="225.2" cy="82.6" r="2.3"/><circle cx="221.0" cy="88.4" r="2.3"/><circle cx="216.8" cy="85.9" r="2.3"/><circle cx="227.7" cy="102.7" r="2.3"/><circle cx="224.3" cy="106.1" r="2.3"/><circle cx="219.3" cy="111.1" r="2.3"/><circle cx="229.9" cy="116.2" r="2.3"/><circle cx="246.2" cy="117.0" r="2.3"/><circle cx="239.8" cy="86.4" r="2.3"/><circle cx="215.1" cy="127.1" r="2.3"/><circle cx="205.0" cy="130.7" r="2.3"/><circle cx="211.7" cy="131.0" r="2.3"/><circle cx="205.0" cy="135.4" r="2.3"/><circle cx="209.7" cy="139.1" r="2.3"/><circle cx="208.4" cy="141.6" r="2.3"/><circle cx="213.4" cy="141.1" r="2.3"/><circle cx="217.3" cy="140.4" r="2.3"/><circle cx="205.0" cy="150.8" r="2.3"/><circle cx="187.3" cy="160.0" r="2.3"/><circle cx="185.0" cy="162.3" r="2.3"/><circle cx="179.0" cy="164.5" r="2.3"/><circle cx="181.7" cy="167.4" r="2.3"/><circle cx="185.0" cy="167.4" r="2.3"/><circle cx="196.2" cy="164.5" r="2.3"/><circle cx="179.5" cy="151.0" r="2.3"/><circle cx="197.3" cy="150.0" r="2.3"/><circle cx="204.0" cy="151.0" r="2.3"/><circle cx="184.4" cy="197.5" r="2.3"/><circle cx="136.2" cy="181.9" r="2.3"/><circle cx="131.6" cy="185.3" r="2.3"/><circle cx="129.2" cy="173.2" r="2.3"/><circle cx="120.1" cy="194.7" r="2.3"/><circle cx="129.0" cy="193.6" r="2.3"/><circle cx="132.8" cy="184.9" r="2.3"/><circle cx="126.1" cy="184.6" r="2.3"/><circle cx="101.1" cy="188.2" r="2.3"/><circle cx="135.9" cy="182.4" r="2.3"/><circle cx="150.0" cy="169.7" r="2.3"/><circle cx="150.5" cy="166.2" r="2.3"/><circle cx="155.1" cy="194.5" r="2.3"/><circle cx="122.4" cy="185.9" r="2.3"/><circle cx="148.9" cy="188.2" r="2.3"/><circle cx="135.0" cy="175.1" r="2.3"/><circle cx="137.3" cy="174.7" r="2.3"/><circle cx="115.2" cy="174.1" r="2.3"/><circle cx="155.4" cy="191.1" r="2.3"/><circle cx="105.6" cy="194.8" r="2.3"/><circle cx="116.6" cy="188.2" r="2.3"/><circle cx="103.8" cy="182.7" r="2.3"/><circle cx="152.1" cy="183.1" r="2.3"/><circle cx="128.1" cy="196.7" r="2.3"/><circle cx="135.1" cy="183.9" r="2.3"/><circle cx="157.2" cy="164.4" r="2.3"/><circle cx="119.5" cy="185.3" r="2.3"/><circle cx="127.1" cy="195.8" r="2.3"/><circle cx="139.9" cy="199.8" r="2.3"/><circle cx="145.9" cy="171.6" r="2.3"/><circle cx="119.5" cy="198.1" r="2.3"/><circle cx="140.7" cy="175.4" r="2.3"/><circle cx="117.9" cy="181.7" r="2.3"/><circle cx="154.7" cy="174.1" r="2.3"/><circle cx="114.8" cy="175.3" r="2.3"/><circle cx="151.5" cy="169.7" r="2.3"/><circle cx="151.7" cy="169.5" r="2.3"/><circle cx="109.3" cy="191.7" r="2.3"/><circle cx="146.4" cy="188.4" r="2.3"/><circle cx="110.4" cy="205.1" r="2.3"/><circle cx="137.4" cy="179.0" r="2.3"/><circle cx="133.8" cy="172.3" r="2.3"/><circle cx="126.7" cy="180.2" r="2.3"/><circle cx="134.5" cy="193.3" r="2.3"/><circle cx="142.7" cy="187.0" r="2.3"/><circle cx="120.8" cy="195.1" r="2.3"/><circle cx="113.7" cy="199.2" r="2.3"/><circle cx="102.2" cy="190.9" r="2.3"/><circle cx="132.4" cy="192.1" r="2.3"/><circle cx="121.9" cy="196.2" r="2.3"/><circle cx="130.8" cy="179.3" r="2.3"/><circle cx="110.5" cy="183.4" r="2.3"/><circle cx="128.9" cy="190.8" r="2.3"/><circle cx="106.1" cy="180.9" r="2.3"/><circle cx="102.6" cy="198.7" r="2.3"/><circle cx="141.2" cy="182.8" r="2.3"/><circle cx="132.4" cy="162.1" r="2.3"/><circle cx="105.0" cy="192.4" r="2.3"/><circle cx="110.2" cy="176.3" r="2.3"/><circle cx="124.6" cy="173.7" r="2.3"/><circle cx="127.6" cy="187.3" r="2.3"/><circle cx="103.7" cy="183.7" r="2.3"/><circle cx="124.9" cy="171.3" r="2.3"/><circle cx="125.8" cy="190.3" r="2.3"/><circle cx="130.5" cy="188.4" r="2.3"/><circle cx="144.7" cy="176.6" r="2.3"/><circle cx="158.4" cy="161.3" r="2.3"/><circle cx="105.9" cy="180.8" r="2.3"/><circle cx="144.4" cy="183.4" r="2.3"/><circle cx="143.3" cy="190.1" r="2.3"/><circle cx="148.9" cy="179.8" r="2.3"/><circle cx="125.3" cy="187.4" r="2.3"/><circle cx="142.7" cy="175.4" r="2.3"/><circle cx="144.2" cy="183.4" r="2.3"/><circle cx="146.6" cy="176.8" r="2.3"/><circle cx="142.5" cy="181.1" r="2.3"/><circle cx="148.3" cy="177.4" r="2.3"/><circle cx="120.8" cy="183.6" r="2.3"/><circle cx="151.4" cy="187.6" r="2.3"/><circle cx="153.4" cy="164.1" r="2.3"/><circle cx="116.8" cy="192.8" r="2.3"/><circle cx="109.8" cy="189.8" r="2.3"/><circle cx="131.8" cy="175.4" r="2.3"/><circle cx="107.3" cy="201.4" r="2.3"/><circle cx="135.3" cy="194.4" r="2.3"/><circle cx="126.5" cy="191.9" r="2.3"/><circle cx="142.6" cy="162.9" r="2.3"/><circle cx="109.0" cy="187.3" r="2.3"/><circle cx="131.7" cy="189.5" r="2.3"/><circle cx="127.8" cy="181.2" r="2.3"/><circle cx="133.9" cy="188.5" r="2.3"/><circle cx="124.5" cy="186.6" r="2.3"/><circle cx="120.8" cy="162.8" r="2.3"/><circle cx="104.4" cy="195.1" r="2.3"/><circle cx="131.9" cy="177.7" r="2.3"/><circle cx="122.6" cy="188.3" r="2.3"/><circle cx="128.2" cy="178.7" r="2.3"/><circle cx="151.7" cy="161.8" r="2.3"/><circle cx="116.8" cy="183.0" r="2.3"/><circle cx="135.6" cy="190.4" r="2.3"/><circle cx="115.0" cy="192.5" r="2.3"/><circle cx="130.4" cy="175.2" r="2.3"/><circle cx="131.9" cy="184.4" r="2.3"/><circle cx="122.4" cy="177.6" r="2.3"/><circle cx="137.7" cy="191.4" r="2.3"/><circle cx="144.4" cy="181.2" r="2.3"/><circle cx="160.7" cy="171.0" r="2.3"/><circle cx="116.0" cy="191.2" r="2.3"/><circle cx="140.8" cy="177.6" r="2.3"/><circle cx="119.2" cy="181.8" r="2.3"/><circle cx="152.4" cy="175.2" r="2.3"/><circle cx="115.4" cy="174.0" r="2.3"/><circle cx="127.1" cy="172.4" r="2.3"/><circle cx="148.2" cy="192.5" r="2.3"/><circle cx="122.3" cy="193.6" r="2.3"/><circle cx="158.8" cy="175.0" r="2.3"/><circle cx="113.5" cy="187.8" r="2.3"/><circle cx="145.5" cy="191.6" r="2.3"/><circle cx="137.8" cy="177.1" r="2.3"/><circle cx="129.5" cy="189.8" r="2.3"/><circle cx="156.5" cy="179.2" r="2.3"/><circle cx="160.2" cy="174.1" r="2.3"/><circle cx="165.9" cy="171.6" r="2.3"/><circle cx="150.7" cy="165.2" r="2.3"/><circle cx="144.1" cy="171.8" r="2.3"/><circle cx="144.1" cy="167.8" r="2.3"/><circle cx="143.1" cy="165.8" r="2.3"/><circle cx="140.0" cy="173.2" r="2.3"/><circle cx="153.4" cy="169.8" r="2.3"/><circle cx="164.7" cy="166.8" r="2.3"/><circle cx="165.5" cy="169.4" r="2.3"/><circle cx="146.4" cy="167.7" r="2.3"/><circle cx="154.3" cy="173.6" r="2.3"/><circle cx="141.5" cy="178.0" r="2.3"/><circle cx="151.0" cy="170.0" r="2.3"/><circle cx="163.6" cy="174.5" r="2.3"/><circle cx="143.5" cy="167.9" r="2.3"/><circle cx="141.5" cy="163.5" r="2.3"/><circle cx="154.8" cy="176.2" r="2.3"/><circle cx="140.6" cy="164.9" r="2.3"/><circle cx="163.2" cy="163.7" r="2.3"/><circle cx="165.8" cy="172.3" r="2.3"/><circle cx="152.7" cy="168.1" r="2.3"/><circle cx="155.6" cy="167.0" r="2.3"/><circle cx="147.5" cy="168.5" r="2.3"/><circle cx="152.7" cy="171.4" r="2.3"/><circle cx="141.3" cy="173.9" r="2.3"/><circle cx="155.5" cy="172.8" r="2.3"/><circle cx="161.6" cy="174.2" r="2.3"/><circle cx="146.6" cy="172.9" r="2.3"/><circle cx="156.9" cy="167.7" r="2.3"/><circle cx="163.6" cy="161.6" r="2.3"/><circle cx="142.7" cy="162.9" r="2.3"/><circle cx="152.8" cy="178.2" r="2.3"/><circle cx="152.1" cy="164.2" r="2.3"/><circle cx="153.9" cy="174.3" r="2.3"/><circle cx="161.3" cy="173.1" r="2.3"/><circle cx="141.2" cy="164.0" r="2.3"/><circle cx="164.1" cy="172.9" r="2.3"/><circle cx="153.6" cy="167.5" r="2.3"/><circle cx="150.6" cy="166.0" r="2.3"/><circle cx="126.2" cy="200.6" r="2.3"/><circle cx="133.7" cy="199.0" r="2.3"/><circle cx="135.4" cy="204.8" r="2.3"/><circle cx="135.4" cy="209.9" r="2.3"/><circle cx="143.0" cy="204.0" r="2.3"/><circle cx="103.5" cy="205.7" r="2.3"/><circle cx="106.8" cy="209.1" r="2.3"/><circle cx="104.3" cy="211.6" r="2.3"/><circle cx="116.1" cy="209.1" r="2.3"/><circle cx="120.3" cy="211.6" r="2.3"/><circle cx="115.3" cy="214.1" r="2.3"/><circle cx="108.5" cy="217.5" r="2.3"/><circle cx="102.6" cy="218.3" r="2.3"/><circle cx="95.4" cy="210.7" r="2.3"/><circle cx="96.4" cy="220.3" r="2.3"/><circle cx="90.4" cy="224.7" r="2.3"/><circle cx="90.0" cy="185.5" r="2.3"/><circle cx="96.8" cy="188.9" r="2.3"/><circle cx="101.8" cy="186.0" r="2.3"/><circle cx="150.0" cy="205.0" r="2.3"/><circle cx="148.0" cy="212.0" r="2.3"/><circle cx="153.0" cy="200.0" r="2.3"/><circle cx="147.0" cy="196.0" r="2.3"/><circle cx="152.0" cy="190.0" r="2.3"/><circle cx="110.3" cy="208.2" r="2.3"/><circle cx="124.7" cy="208.5" r="2.3"/><circle cx="137.4" cy="218.0" r="2.3"/><circle cx="114.4" cy="210.4" r="2.3"/><circle cx="135.0" cy="200.9" r="2.3"/><circle cx="142.4" cy="213.5" r="2.3"/><circle cx="115.4" cy="201.7" r="2.3"/><circle cx="119.4" cy="201.4" r="2.3"/><circle cx="118.0" cy="206.2" r="2.3"/><circle cx="135.7" cy="203.2" r="2.3"/><circle cx="137.1" cy="210.5" r="2.3"/><circle cx="144.4" cy="206.8" r="2.3"/><circle cx="139.5" cy="206.7" r="2.3"/><circle cx="115.5" cy="202.3" r="2.3"/><circle cx="130.6" cy="196.0" r="2.3"/><circle cx="116.0" cy="199.2" r="2.3"/><circle cx="116.5" cy="205.7" r="2.3"/><circle cx="119.7" cy="194.0" r="2.3"/><circle cx="132.0" cy="205.7" r="2.3"/><circle cx="149.2" cy="198.6" r="2.3"/><circle cx="140.2" cy="208.9" r="2.3"/><circle cx="121.1" cy="204.0" r="2.3"/><circle cx="119.4" cy="207.8" r="2.3"/><circle cx="143.6" cy="198.4" r="2.3"/><circle cx="124.4" cy="204.6" r="2.3"/><circle cx="119.5" cy="213.4" r="2.3"/><circle cx="130.0" cy="198.4" r="2.3"/><circle cx="148.1" cy="203.0" r="2.3"/>
</g>
<g fill="#2ca02c">
<circle cx="191.7" cy="153.3" r="2.3"/><circle cx="196.6" cy="154.9" r="2.3"/><circle cx="207.3" cy="156.7" r="2.3"/><circle cx="221.8" cy="152.2" r="2.3"/><circle cx="199.1" cy="161.2" r="2.3"/><circle cx="208.0" cy="164.1" r="2.3"/><circle cx="188.4" cy="167.8" r="2.3"/><circle cx="194.0" cy="170.1" r="2.3"/><circle cx="202.9" cy="171.6" r="2.3"/><circle cx="204.4" cy="176.3" r="2.3"/><circle cx="202.9" cy="181.2" r="2.3"/><circle cx="190.6" cy="183.9" r="2.3"/><circle cx="176.1" cy="183.5" r="2.3"/><circle cx="176.1" cy="189.0" r="2.3"/><circle cx="198.4" cy="192.4" r="2.3"/><circle cx="181.7" cy="195.7" r="2.3"/><circle cx="206.9" cy="200.9" r="2.3"/><circle cx="176.8" cy="201.3" r="2.3"/><circle cx="176.1" cy="205.8" r="2.3"/><circle cx="181.0" cy="214.7" r="2.3"/><circle cx="175.0" cy="172.3" r="2.3"/><circle cx="211.7" cy="129.0" r="2.3"/><circle cx="205.0" cy="145.0" r="2.3"/><circle cx="209.7" cy="146.1" r="2.3"/><circle cx="239.1" cy="153.0" r="2.3"/><circle cx="207.0" cy="156.4" r="2.3"/><circle cx="205.0" cy="176.6" r="2.3"/><circle cx="174.4" cy="78.4" r="2.3"/><circle cx="172.7" cy="81.7" r="2.3"/><circle cx="194.6" cy="80.9" r="2.3"/><circle cx="180.3" cy="98.5" r="2.3"/><circle cx="189.0" cy="98.5" r="2.3"/><circle cx="155.1" cy="104.4" r="2.3"/><circle cx="187.9" cy="104.4" r="2.3"/><circle cx="190.4" cy="109.5" r="2.3"/><circle cx="190.4" cy="112.8" r="2.3"/><circle cx="192.9" cy="117.0" r="2.3"/><circle cx="177.8" cy="116.2" r="2.3"/><circle cx="171.1" cy="127.1" r="2.3"/><circle cx="191.2" cy="126.3" r="2.3"/><circle cx="176.9" cy="131.5" r="2.3"/><circle cx="188.7" cy="135.7" r="2.3"/><circle cx="183.7" cy="131.5" r="2.3"/><circle cx="176.1" cy="139.1" r="2.3"/><circle cx="189.5" cy="145.8" r="2.3"/><circle cx="196.3" cy="139.9" r="2.3"/><circle cx="198.8" cy="146.6" r="2.3"/><circle cx="192.1" cy="154.2" r="2.3"/><circle cx="196.3" cy="154.2" r="2.3"/><circle cx="198.8" cy="160.9" r="2.3"/><circle cx="187.9" cy="168.0" r="2.3"/><circle cx="193.7" cy="169.3" r="2.3"/><circle cx="203.0" cy="171.0" r="2.3"/><circle cx="170.2" cy="171.9" r="2.3"/><circle cx="173.6" cy="173.5" r="2.3"/><circle cx="148.4" cy="161.8" r="2.3"/><circle cx="203.8" cy="145.0" r="2.3"/><circle cx="202.1" cy="134.0" r="2.3"/><circle cx="197.1" cy="130.7" r="2.3"/><circle cx="208.7" cy="83.4" r="2.3"/><circle cx="227.2" cy="88.8" r="2.3"/><circle cx="217.1" cy="100.5" r="2.3"/><circle cx="222.6" cy="102.2" r="2.3"/><circle cx="209.2" cy="105.3" r="2.3"/><circle cx="208.4" cy="108.6" r="2.3"/><circle cx="208.4" cy="120.0" r="2.3"/><circle cx="211.4" cy="126.8" r="2.3"/><circle cx="205.0" cy="101.9" r="2.3"/><circle cx="174.4" cy="78.3" r="2.3"/><circle cx="173.2" cy="82.0" r="2.3"/><circle cx="182.3" cy="84.5" r="2.3"/><circle cx="194.2" cy="80.8" r="2.3"/><circle cx="208.7" cy="83.7" r="2.3"/><circle cx="226.8" cy="89.1" r="2.3"/><circle cx="194.1" cy="127.8" r="2.3"/><circle cx="198.6" cy="130.1" r="2.3"/><circle cx="200.9" cy="134.6" r="2.3"/><circle cx="188.5" cy="130.1" r="2.3"/><circle cx="187.4" cy="135.7" r="2.3"/><circle cx="196.4" cy="139.1" r="2.3"/>
</g>
<g fill="#d62728">
<circle cx="261.7" cy="13.9" r="2.3"/><circle cx="241.4" cy="67.6" r="2.3"/><circle cx="261.3" cy="71.1" r="2.3"/><circle cx="275.2" cy="74.3" r="2.3"/><circle cx="262.4" cy="80.8" r="2.3"/><circle cx="275.2" cy="84.3" r="2.3"/><circle cx="273.0" cy="87.5" r="2.3"/><circle cx="284.4" cy="80.4" r="2.3"/><circle cx="284.4" cy="87.2" r="2.3"/><circle cx="290.5" cy="77.9" r="2.3"/><circle cx="291.2" cy="81.5" r="2.3"/><circle cx="294.4" cy="81.5" r="2.3"/><circle cx="299.7" cy="77.9" r="2.3"/><circle cx="300.0" cy="84.3" r="2.3"/><circle cx="300.0" cy="89.3" r="2.3"/><circle cx="306.1" cy="76.5" r="2.3"/><circle cx="308.6" cy="71.1" r="2.3"/><circle cx="317.2" cy="72.2" r="2.3"/><circle cx="318.2" cy="77.6" r="2.3"/><circle cx="315.0" cy="81.1" r="2.3"/><circle cx="314.7" cy="84.3" r="2.3"/><circle cx="326.8" cy="93.6" r="2.3"/><circle cx="338.1" cy="83.6" r="2.3"/><circle cx="342.8" cy="90.7" r="2.3"/><circle cx="284.8" cy="108.1" r="2.3"/><circle cx="267.0" cy="91.8" r="2.3"/><circle cx="262.7" cy="96.8" r="2.3"/><circle cx="258.1" cy="101.0" r="2.3"/><circle cx="254.5" cy="85.7" r="2.3"/><circle cx="244.9" cy="85.7" r="2.3"/><circle cx="243.2" cy="89.3" r="2.3"/><circle cx="235.0" cy="90.7" r="2.3"/><circle cx="224.8" cy="84.2" r="2.3"/><circle cx="232.4" cy="112.8" r="2.3"/><circle cx="221.8" cy="72.4" r="2.3"/><circle cx="198.4" cy="85.0" r="2.3"/><circle cx="234.6" cy="148.8" r="2.3"/>
</g>
<g fill="#000000">
<circle cx="244.2" cy="108.9" r="2.3"/><circle cx="63.9" cy="121.1" r="2.3"/><circle cx="81.5" cy="128.1" r="2.3"/><circle cx="102.4" cy="112.8" r="2.3"/><circle cx="156.8" cy="68.4" r="2.3"/><circle cx="188.5" cy="71.5" r="2.3"/><circle cx="213.4" cy="91.0" r="2.3"/><circle cx="215.9" cy="93.8" r="2.3"/><circle cx="222.6" cy="93.8" r="2.3"/><circle cx="213.1" cy="100.5" r="2.3"/><circle cx="205.0" cy="110.3" r="2.3"/><circle cx="199.6" cy="90.0" r="2.3"/><circle cx="176.1" cy="113.3" r="2.3"/><circle cx="138.8" cy="130.3" r="2.3"/><circle cx="151.4" cy="140.4" r="2.3"/><circle cx="156.4" cy="196.1" r="2.3"/><circle cx="143.0" cy="286.2" r="2.3"/><circle cx="75.2" cy="227.0" r="2.3"/><circle cx="70.2" cy="233.5" r="2.3"/>
</g>
<circle cx="205.8" cy="77.4" r="2.3" fill="#1f77b4"/>
<line x1="50.5" x2="356.5" y1="221.4" y2="221.4" stroke="#111" stroke-width="1.15" stroke-dasharray="3.4 1.35"/>
<g stroke="#bf00bf" stroke-width="1.15" fill="none">
<line x1="168.7" x2="168.7" y1="182" y2="216.5"/>
<line x1="166.1" x2="171.29999999999998" y1="182" y2="182"/>
<line x1="166.1" x2="171.29999999999998" y1="216.5" y2="216.5"/>
<line x1="171.5" x2="171.5" y1="182" y2="216.5"/>
<line x1="168.9" x2="174.1" y1="182" y2="182"/>
<line x1="168.9" x2="174.1" y1="216.5" y2="216.5"/>
<line x1="161.8" x2="178" y1="197.7" y2="197.7"/>
<line x1="178" x2="178" y1="195.2" y2="200.2"/>
<line x1="161.8" x2="161.8" y1="195.2" y2="200.2"/>
</g>
<rect x="162.2" y="195.2" width="5.6" height="5" rx="0.8" fill="#bf00bf" stroke="#000" stroke-width="0.9"/><rect x="164.2" y="194.9" width="5" height="5.6" fill="#bf00bf"/>
<circle cx="170.9" cy="197.8" r="3.1" fill="#bf00bf" stroke="#ffa416" stroke-width="0.8"/>
</g>
<g fill="none">
<line x1="50.0" x2="50.0" y1="0" y2="300.6" stroke="#808080" stroke-width="1.3"/>
<line x1="356.5" x2="356.5" y1="0" y2="300.6" stroke="#888" stroke-width="1"/>
<line x1="49.4" x2="357" y1="0.45" y2="0.45" stroke="#484848" stroke-width="0.9"/>
<line x1="49.4" x2="357" y1="300.0" y2="300.0" stroke="#7a7a7a" stroke-width="1.3"/>
</g>
<g stroke="#222" stroke-width="0.8"><line x1="56.04" x2="56.04" y1="300" y2="298.6" stroke-opacity="0.75"/><line x1="62.09" x2="62.09" y1="300" y2="298.6" stroke-opacity="0.75"/><line x1="66.78" x2="66.78" y1="300" y2="298.6" stroke-opacity="0.75"/><line x1="70.62" x2="70.62" y1="300" y2="298.6" stroke-opacity="0.75"/><line x1="73.86" x2="73.86" y1="300" y2="298.6" stroke-opacity="0.75"/><line x1="76.67" x2="76.67" y1="300" y2="298.6" stroke-opacity="0.75"/><line x1="79.14" x2="79.14" y1="300" y2="298.6" stroke-opacity="0.75"/><line x1="81.36" x2="81.36" y1="300" y2="297.5"/><line x1="95.94" x2="95.94" y1="300" y2="298.6" stroke-opacity="0.75"/><line x1="104.46" x2="104.46" y1="300" y2="298.6" stroke-opacity="0.75"/><line x1="110.51" x2="110.51" y1="300" y2="298.6" stroke-opacity="0.75"/><line x1="115.20" x2="115.20" y1="300" y2="298.6" stroke-opacity="0.75"/><line x1="119.04" x2="119.04" y1="300" y2="298.6" stroke-opacity="0.75"/><line x1="122.28" x2="122.28" y1="300" y2="298.6" stroke-opacity="0.75"/><line x1="125.09" x2="125.09" y1="300" y2="298.6" stroke-opacity="0.75"/><line x1="127.56" x2="127.56" y1="300" y2="298.6" stroke-opacity="0.75"/><line x1="129.78" x2="129.78" y1="300" y2="297.5"/><line x1="144.36" x2="144.36" y1="300" y2="298.6" stroke-opacity="0.75"/><line x1="152.88" x2="152.88" y1="300" y2="298.6" stroke-opacity="0.75"/><line x1="158.93" x2="158.93" y1="300" y2="298.6" stroke-opacity="0.75"/><line x1="163.62" x2="163.62" y1="300" y2="298.6" stroke-opacity="0.75"/><line x1="167.46" x2="167.46" y1="300" y2="298.6" stroke-opacity="0.75"/><line x1="170.70" x2="170.70" y1="300" y2="298.6" stroke-opacity="0.75"/><line x1="173.51" x2="173.51" y1="300" y2="298.6" stroke-opacity="0.75"/><line x1="175.98" x2="175.98" y1="300" y2="298.6" stroke-opacity="0.75"/><line x1="178.20" x2="178.20" y1="300" y2="297.5"/><line x1="192.78" x2="192.78" y1="300" y2="298.6" stroke-opacity="0.75"/><line x1="201.30" x2="201.30" y1="300" y2="298.6" stroke-opacity="0.75"/><line x1="207.35" x2="207.35" y1="300" y2="298.6" stroke-opacity="0.75"/><line x1="212.04" x2="212.04" y1="300" y2="298.6" stroke-opacity="0.75"/><line x1="215.88" x2="215.88" y1="300" y2="298.6" stroke-opacity="0.75"/><line x1="219.12" x2="219.12" y1="300" y2="298.6" stroke-opacity="0.75"/><line x1="221.93" x2="221.93" y1="300" y2="298.6" stroke-opacity="0.75"/><line x1="224.40" x2="224.40" y1="300" y2="298.6" stroke-opacity="0.75"/><line x1="226.62" x2="226.62" y1="300" y2="297.5"/><line x1="241.20" x2="241.20" y1="300" y2="298.6" stroke-opacity="0.75"/><line x1="249.72" x2="249.72" y1="300" y2="298.6" stroke-opacity="0.75"/><line x1="255.77" x2="255.77" y1="300" y2="298.6" stroke-opacity="0.75"/><line x1="260.46" x2="260.46" y1="300" y2="298.6" stroke-opacity="0.75"/><line x1="264.30" x2="264.30" y1="300" y2="298.6" stroke-opacity="0.75"/><line x1="267.54" x2="267.54" y1="300" y2="298.6" stroke-opacity="0.75"/><line x1="270.35" x2="270.35" y1="300" y2="298.6" stroke-opacity="0.75"/><line x1="272.82" x2="272.82" y1="300" y2="298.6" stroke-opacity="0.75"/><line x1="275.04" x2="275.04" y1="300" y2="297.5"/><line x1="289.62" x2="289.62" y1="300" y2="298.6" stroke-opacity="0.75"/><line x1="298.14" x2="298.14" y1="300" y2="298.6" stroke-opacity="0.75"/><line x1="304.19" x2="304.19" y1="300" y2="298.6" stroke-opacity="0.75"/><line x1="308.88" x2="308.88" y1="300" y2="298.6" stroke-opacity="0.75"/><line x1="312.72" x2="312.72" y1="300" y2="298.6" stroke-opacity="0.75"/><line x1="315.96" x2="315.96" y1="300" y2="298.6" stroke-opacity="0.75"/><line x1="318.77" x2="318.77" y1="300" y2="298.6" stroke-opacity="0.75"/><line x1="321.24" x2="321.24" y1="300" y2="298.6" stroke-opacity="0.75"/><line x1="323.46" x2="323.46" y1="300" y2="297.5"/><line x1="338.04" x2="338.04" y1="300" y2="298.6" stroke-opacity="0.75"/><line x1="346.56" x2="346.56" y1="300" y2="298.6" stroke-opacity="0.75"/><line x1="352.61" x2="352.61" y1="300" y2="298.6" stroke-opacity="0.75"/><line y1="298.09" y2="298.09" x1="50" x2="51.5" stroke-opacity="0.75"/><line y1="293.30" y2="293.30" x1="50" x2="51.5" stroke-opacity="0.75"/><line y1="289.58" y2="289.58" x1="50" x2="51.5" stroke-opacity="0.75"/><line y1="286.54" y2="286.54" x1="50" x2="51.5" stroke-opacity="0.75"/><line y1="283.97" y2="283.97" x1="50" x2="51.5" stroke-opacity="0.75"/><line y1="281.75" y2="281.75" x1="50" x2="51.5" stroke-opacity="0.75"/><line y1="279.79" y2="279.79" x1="50" x2="51.5" stroke-opacity="0.75"/><line y1="278.03" y2="278.03" x1="50" x2="52.6"/><line y1="266.48" y2="266.48" x1="50" x2="51.5" stroke-opacity="0.75"/><line y1="259.72" y2="259.72" x1="50" x2="51.5" stroke-opacity="0.75"/><line y1="254.93" y2="254.93" x1="50" x2="51.5" stroke-opacity="0.75"/><line y1="251.21" y2="251.21" x1="50" x2="51.5" stroke-opacity="0.75"/><line y1="248.17" y2="248.17" x1="50" x2="51.5" stroke-opacity="0.75"/><line y1="245.60" y2="245.60" x1="50" x2="51.5" stroke-opacity="0.75"/><line y1="243.38" y2="243.38" x1="50" x2="51.5" stroke-opacity="0.75"/><line y1="241.42" y2="241.42" x1="50" x2="51.5" stroke-opacity="0.75"/><line y1="239.66" y2="239.66" x1="50" x2="52.6"/><line y1="228.11" y2="228.11" x1="50" x2="51.5" stroke-opacity="0.75"/><line y1="221.35" y2="221.35" x1="50" x2="51.5" stroke-opacity="0.75"/><line y1="216.56" y2="216.56" x1="50" x2="51.5" stroke-opacity="0.75"/><line y1="212.84" y2="212.84" x1="50" x2="51.5" stroke-opacity="0.75"/><line y1="209.80" y2="209.80" x1="50" x2="51.5" stroke-opacity="0.75"/><line y1="207.23" y2="207.23" x1="50" x2="51.5" stroke-opacity="0.75"/><line y1="205.01" y2="205.01" x1="50" x2="51.5" stroke-opacity="0.75"/><line y1="203.05" y2="203.05" x1="50" x2="51.5" stroke-opacity="0.75"/><line y1="201.29" y2="201.29" x1="50" x2="52.6"/><line y1="189.74" y2="189.74" x1="50" x2="51.5" stroke-opacity="0.75"/><line y1="182.98" y2="182.98" x1="50" x2="51.5" stroke-opacity="0.75"/><line y1="178.19" y2="178.19" x1="50" x2="51.5" stroke-opacity="0.75"/><line y1="174.47" y2="174.47" x1="50" x2="51.5" stroke-opacity="0.75"/><line y1="171.43" y2="171.43" x1="50" x2="51.5" stroke-opacity="0.75"/><line y1="168.86" y2="168.86" x1="50" x2="51.5" stroke-opacity="0.75"/><line y1="166.64" y2="166.64" x1="50" x2="51.5" stroke-opacity="0.75"/><line y1="164.68" y2="164.68" x1="50" x2="51.5" stroke-opacity="0.75"/><line y1="162.92" y2="162.92" x1="50" x2="52.6"/><line y1="151.37" y2="151.37" x1="50" x2="51.5" stroke-opacity="0.75"/><line y1="144.61" y2="144.61" x1="50" x2="51.5" stroke-opacity="0.75"/><line y1="139.82" y2="139.82" x1="50" x2="51.5" stroke-opacity="0.75"/><line y1="136.10" y2="136.10" x1="50" x2="51.5" stroke-opacity="0.75"/><line y1="133.06" y2="133.06" x1="50" x2="51.5" stroke-opacity="0.75"/><line y1="130.49" y2="130.49" x1="50" x2="51.5" stroke-opacity="0.75"/><line y1="128.27" y2="128.27" x1="50" x2="51.5" stroke-opacity="0.75"/><line y1="126.31" y2="126.31" x1="50" x2="51.5" stroke-opacity="0.75"/><line y1="124.55" y2="124.55" x1="50" x2="52.6"/><line y1="113.00" y2="113.00" x1="50" x2="51.5" stroke-opacity="0.75"/><line y1="106.24" y2="106.24" x1="50" x2="51.5" stroke-opacity="0.75"/><line y1="101.45" y2="101.45" x1="50" x2="51.5" stroke-opacity="0.75"/><line y1="97.73" y2="97.73" x1="50" x2="51.5" stroke-opacity="0.75"/><line y1="94.69" y2="94.69" x1="50" x2="51.5" stroke-opacity="0.75"/><line y1="92.12" y2="92.12" x1="50" x2="51.5" stroke-opacity="0.75"/><line y1="89.90" y2="89.90" x1="50" x2="51.5" stroke-opacity="0.75"/><line y1="87.94" y2="87.94" x1="50" x2="51.5" stroke-opacity="0.75"/><line y1="86.18" y2="86.18" x1="50" x2="52.6"/><line y1="74.63" y2="74.63" x1="50" x2="51.5" stroke-opacity="0.75"/><line y1="67.87" y2="67.87" x1="50" x2="51.5" stroke-opacity="0.75"/><line y1="63.08" y2="63.08" x1="50" x2="51.5" stroke-opacity="0.75"/><line y1="59.36" y2="59.36" x1="50" x2="51.5" stroke-opacity="0.75"/><line y1="56.32" y2="56.32" x1="50" x2="51.5" stroke-opacity="0.75"/><line y1="53.75" y2="53.75" x1="50" x2="51.5" stroke-opacity="0.75"/><line y1="51.53" y2="51.53" x1="50" x2="51.5" stroke-opacity="0.75"/><line y1="49.57" y2="49.57" x1="50" x2="51.5" stroke-opacity="0.75"/><line y1="47.81" y2="47.81" x1="50" x2="52.6"/><line y1="36.26" y2="36.26" x1="50" x2="51.5" stroke-opacity="0.75"/><line y1="29.50" y2="29.50" x1="50" x2="51.5" stroke-opacity="0.75"/><line y1="24.71" y2="24.71" x1="50" x2="51.5" stroke-opacity="0.75"/><line y1="20.99" y2="20.99" x1="50" x2="51.5" stroke-opacity="0.75"/><line y1="17.95" y2="17.95" x1="50" x2="51.5" stroke-opacity="0.75"/><line y1="15.38" y2="15.38" x1="50" x2="51.5" stroke-opacity="0.75"/><line y1="13.16" y2="13.16" x1="50" x2="51.5" stroke-opacity="0.75"/><line y1="11.20" y2="11.20" x1="50" x2="51.5" stroke-opacity="0.75"/><line y1="9.44" y2="9.44" x1="50" x2="52.6"/></g>
<g font-size="9.2" fill="#000" stroke="#000" stroke-width="0.12">
<text x="81.4" y="310.4" text-anchor="middle">0.01</text>
<text x="129.8" y="310.4" text-anchor="middle">0.10</text>
<text x="178.2" y="310.4" text-anchor="middle">1</text>
<text x="226.6" y="310.4" text-anchor="middle">10</text>
<text x="275.0" y="310.4" text-anchor="middle">100</text>
<text x="323.5" y="310.4" text-anchor="middle">1000</text>
<text x="47" y="13.0" text-anchor="end">1000</text>
<text x="47" y="51.4" text-anchor="end">100</text>
<text x="47" y="89.8" text-anchor="end">10</text>
<text x="47" y="128.2" text-anchor="end">1</text>
<text x="47" y="166.5" text-anchor="end">0.10</text>
<text x="47" y="204.9" text-anchor="end">0.01</text>
<text x="47" y="243.3" text-anchor="end">0.001</text>
<text x="47" y="281.6" text-anchor="end">0.0001</text>
</g>
<text x="203" y="321.4" font-size="9.6" text-anchor="middle"><tspan font-style="italic">d</tspan>[AU]</text>
<text transform="translate(8.2,150.6) rotate(-90)" font-size="9.6" text-anchor="middle"><tspan font-style="italic">M</tspan><tspan font-size="7.1" dy="1">planet</tspan><tspan dy="-1">[</tspan><tspan font-style="italic">M</tspan><tspan font-size="7.1" dy="1" font-style="italic">J</tspan><tspan dy="-1">]</tspan></text>
<text x="226.8" y="230.2" font-size="7">1 <tspan font-style="italic">M</tspan></text>
<text x="238.7" y="232.0" font-size="9.4" fill="#111">⊕</text>
<circle cx="280.6" cy="229.5" r="2.4" fill="#1f77b4"/>
<circle cx="280.6" cy="239.7" r="2.4" fill="#ff7f0e"/>
<circle cx="280.6" cy="249.79999999999998" r="2.4" fill="#2ca02c"/>
<circle cx="280.6" cy="259.90000000000003" r="2.4" fill="#d62728"/>
<circle cx="280.6" cy="269.90000000000003" r="2.4" fill="#000000"/>
<rect x="276.9" y="276.4" width="7.4" height="7.4" rx="1.7" fill="#bf00bf"/>
<circle cx="280.6" cy="290.3" r="3.3" fill="#bf00bf" stroke="#ffae20" stroke-width="0.8"/>
<g font-size="6.9" fill="#000" stroke="#000" stroke-width="0.18">
<text x="293" y="231.9">Transit</text>
<text x="293" y="242.1">Radial Velocity</text>
<text x="293" y="252.2">Microlensing</text>
<text x="293" y="262.3">Imaging</text>
<text x="293" y="272.3">Other methods</text>
<text x="293" y="282.4">This work(Inner)</text>
<text x="293" y="292.5">This work(Outer)</text>
</g>
</svg>
</body></html>
